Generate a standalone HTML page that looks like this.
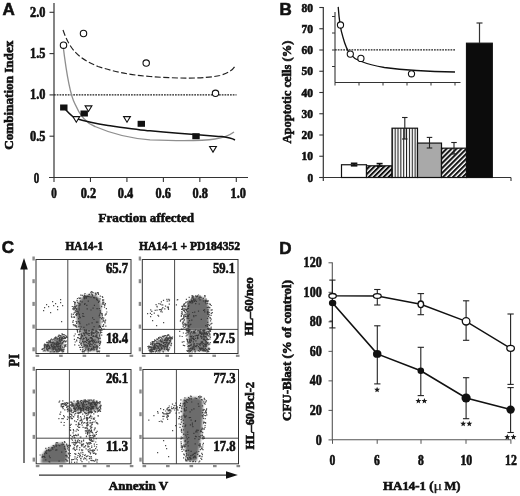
<!DOCTYPE html>
<html><head><meta charset="utf-8"><style>
html,body{margin:0;padding:0;background:#fff;width:520px;height:496px;overflow:hidden}
svg{display:block;filter:blur(0.35px)}
</style></head><body>
<svg width="520" height="496" viewBox="0 0 520 496">
<rect width="520" height="496" fill="#fff"/>
<text x="2.4" y="15.0" text-anchor="start" style="font-family:'Liberation Sans',sans-serif;font-weight:bold;font-size:17px" fill="#111" stroke="#111" stroke-width="0.6">A</text>
<line x1="54" y1="3" x2="54" y2="177.5" stroke="#333" stroke-width="1.2"/>
<line x1="49" y1="177.5" x2="248" y2="177.5" stroke="#333" stroke-width="1.2"/>
<line x1="49.5" y1="12.300000000000011" x2="54" y2="12.300000000000011" stroke="#333" stroke-width="1.1"/>
<text x="45.5" y="16.70000000000001" text-anchor="end" style="font-family:'Liberation Serif',serif;font-weight:bold;font-size:13.8px" fill="#111" stroke="#111" stroke-width="0.6" textLength="15.4" lengthAdjust="spacingAndGlyphs">2.0</text>
<line x1="49.5" y1="53.60000000000001" x2="54" y2="53.60000000000001" stroke="#333" stroke-width="1.1"/>
<text x="45.5" y="58.00000000000001" text-anchor="end" style="font-family:'Liberation Serif',serif;font-weight:bold;font-size:13.8px" fill="#111" stroke="#111" stroke-width="0.6" textLength="15.4" lengthAdjust="spacingAndGlyphs">1.5</text>
<line x1="49.5" y1="94.9" x2="54" y2="94.9" stroke="#333" stroke-width="1.1"/>
<text x="45.5" y="99.30000000000001" text-anchor="end" style="font-family:'Liberation Serif',serif;font-weight:bold;font-size:13.8px" fill="#111" stroke="#111" stroke-width="0.6" textLength="15.4" lengthAdjust="spacingAndGlyphs">1.0</text>
<line x1="49.5" y1="136.2" x2="54" y2="136.2" stroke="#333" stroke-width="1.1"/>
<text x="45.5" y="140.6" text-anchor="end" style="font-family:'Liberation Serif',serif;font-weight:bold;font-size:13.8px" fill="#111" stroke="#111" stroke-width="0.6" textLength="15.4" lengthAdjust="spacingAndGlyphs">0.5</text>
<text x="36.4" y="183" text-anchor="middle" style="font-family:'Liberation Serif',serif;font-weight:bold;font-size:13.8px" fill="#111" stroke="#111" stroke-width="0.6" textLength="5.5" lengthAdjust="spacingAndGlyphs">0</text>
<line x1="54.0" y1="177.5" x2="54.0" y2="182" stroke="#333" stroke-width="1.1"/>
<text x="53.9" y="197.6" text-anchor="middle" style="font-family:'Liberation Serif',serif;font-weight:bold;font-size:14px" fill="#111" stroke="#111" stroke-width="0.6" textLength="5.5" lengthAdjust="spacingAndGlyphs">0</text>
<line x1="90.46000000000001" y1="177.5" x2="90.46000000000001" y2="182" stroke="#333" stroke-width="1.1"/>
<text x="88.4" y="197.6" text-anchor="middle" style="font-family:'Liberation Serif',serif;font-weight:bold;font-size:14px" fill="#111" stroke="#111" stroke-width="0.6" textLength="15.4" lengthAdjust="spacingAndGlyphs">0.2</text>
<line x1="126.92" y1="177.5" x2="126.92" y2="182" stroke="#333" stroke-width="1.1"/>
<text x="125.5" y="197.6" text-anchor="middle" style="font-family:'Liberation Serif',serif;font-weight:bold;font-size:14px" fill="#111" stroke="#111" stroke-width="0.6" textLength="15.4" lengthAdjust="spacingAndGlyphs">0.4</text>
<line x1="163.38" y1="177.5" x2="163.38" y2="182" stroke="#333" stroke-width="1.1"/>
<text x="163.2" y="197.6" text-anchor="middle" style="font-family:'Liberation Serif',serif;font-weight:bold;font-size:14px" fill="#111" stroke="#111" stroke-width="0.6" textLength="15.4" lengthAdjust="spacingAndGlyphs">0.6</text>
<line x1="199.84" y1="177.5" x2="199.84" y2="182" stroke="#333" stroke-width="1.1"/>
<text x="200.2" y="197.6" text-anchor="middle" style="font-family:'Liberation Serif',serif;font-weight:bold;font-size:14px" fill="#111" stroke="#111" stroke-width="0.6" textLength="15.4" lengthAdjust="spacingAndGlyphs">0.8</text>
<line x1="236.3" y1="177.5" x2="236.3" y2="182" stroke="#333" stroke-width="1.1"/>
<text x="238.2" y="197.6" text-anchor="middle" style="font-family:'Liberation Serif',serif;font-weight:bold;font-size:14px" fill="#111" stroke="#111" stroke-width="0.6" textLength="15.4" lengthAdjust="spacingAndGlyphs">1.0</text>
<text x="146.3" y="221.8" text-anchor="middle" style="font-family:'Liberation Serif',serif;font-weight:bold;font-size:13.5px" fill="#111" stroke="#111" stroke-width="0.6" textLength="95.5" lengthAdjust="spacingAndGlyphs">Fraction affected</text>
<text x="13.1" y="95.2" text-anchor="middle" style="font-family:'Liberation Serif',serif;font-weight:bold;font-size:12.5px" fill="#111" stroke="#111" stroke-width="0.6" transform="rotate(-90 13.1 95.2)" textLength="109" lengthAdjust="spacingAndGlyphs">Combination Index</text>
<line x1="54" y1="94.8" x2="236.5" y2="94.8" stroke="#222" stroke-width="1.3" stroke-dasharray="1.75 1.0"/>
<path d="M63,30 C70,50 78,58 98,66.5 C115,72 130,75 150,76.5 C175,78.5 205,79 220,75.5 C228,73 233,70 235,66" fill="none" stroke="#222" stroke-width="1.15" stroke-dasharray="6 2.5"/>
<path d="M63,45 C66,70 70,95 75,104 C80,116 86,123 95,126.5 C110,133 125,138 150,139.8 C180,141 205,140.5 215,139 C225,137.5 230,135 234,132" fill="none" stroke="#8f8f8f" stroke-width="1.35"/>
<path d="M63.8,107.5 C68,112 71,116 76,118.5 C84,121 95,123.5 108,125.4 C125,127.8 140,130 150,130.8 C180,133.5 205,135.3 222,136.6 C228,137.5 232,138.5 235,140" fill="none" stroke="#111" stroke-width="1.5"/>
<circle cx="63.5" cy="45.2" r="3.2" fill="#fff" stroke="#111" stroke-width="1.1"/>
<circle cx="83.5" cy="33.5" r="3.2" fill="#fff" stroke="#111" stroke-width="1.1"/>
<circle cx="146.2" cy="63.1" r="3.2" fill="#fff" stroke="#111" stroke-width="1.1"/>
<circle cx="215.5" cy="93.3" r="3.2" fill="#fff" stroke="#111" stroke-width="1.1"/>
<rect x="60.099999999999994" y="104.5" width="7.4" height="6.0" fill="#111"/>
<rect x="80.5" y="110.5" width="7.4" height="6.0" fill="#111"/>
<rect x="137.60000000000002" y="120.8" width="7.4" height="6.0" fill="#111"/>
<rect x="192.3" y="133.2" width="7.4" height="6.0" fill="#111"/>
<path d="M72.89999999999999,116.60000000000001 L79.7,116.60000000000001 L76.3,122.2 Z" fill="#fff" stroke="#111" stroke-width="1.1"/>
<path d="M85.1,105.9 L91.9,105.9 L88.5,111.5 Z" fill="#fff" stroke="#111" stroke-width="1.1"/>
<path d="M123.6,116.60000000000001 L130.4,116.60000000000001 L127,122.2 Z" fill="#fff" stroke="#111" stroke-width="1.1"/>
<path d="M209.6,146.5 L216.4,146.5 L213,152.1 Z" fill="#fff" stroke="#111" stroke-width="1.1"/>
<text x="279.6" y="15.0" text-anchor="start" style="font-family:'Liberation Sans',sans-serif;font-weight:bold;font-size:17px" fill="#111" stroke="#111" stroke-width="0.6">B</text>
<line x1="323.3" y1="6.9" x2="323.3" y2="181" stroke="#333" stroke-width="1.2"/>
<line x1="319.5" y1="177.5" x2="511" y2="177.5" stroke="#333" stroke-width="1.2"/>
<line x1="511" y1="177.5" x2="511" y2="181" stroke="#333" stroke-width="1.1"/>
<line x1="319.3" y1="177.5" x2="323.3" y2="177.5" stroke="#333" stroke-width="1.1"/>
<text x="313" y="181.7" text-anchor="end" style="font-family:'Liberation Serif',serif;font-weight:bold;font-size:12.6px" fill="#111" stroke="#111" stroke-width="0.6" textLength="5.6" lengthAdjust="spacingAndGlyphs">0</text>
<line x1="319.3" y1="156.25" x2="323.3" y2="156.25" stroke="#333" stroke-width="1.1"/>
<text x="313" y="160.45" text-anchor="end" style="font-family:'Liberation Serif',serif;font-weight:bold;font-size:12.6px" fill="#111" stroke="#111" stroke-width="0.6" textLength="11.5" lengthAdjust="spacingAndGlyphs">10</text>
<line x1="319.3" y1="135.0" x2="323.3" y2="135.0" stroke="#333" stroke-width="1.1"/>
<text x="313" y="139.2" text-anchor="end" style="font-family:'Liberation Serif',serif;font-weight:bold;font-size:12.6px" fill="#111" stroke="#111" stroke-width="0.6" textLength="11.5" lengthAdjust="spacingAndGlyphs">20</text>
<line x1="319.3" y1="113.75" x2="323.3" y2="113.75" stroke="#333" stroke-width="1.1"/>
<text x="313" y="117.95" text-anchor="end" style="font-family:'Liberation Serif',serif;font-weight:bold;font-size:12.6px" fill="#111" stroke="#111" stroke-width="0.6" textLength="11.5" lengthAdjust="spacingAndGlyphs">30</text>
<line x1="319.3" y1="92.5" x2="323.3" y2="92.5" stroke="#333" stroke-width="1.1"/>
<text x="313" y="96.7" text-anchor="end" style="font-family:'Liberation Serif',serif;font-weight:bold;font-size:12.6px" fill="#111" stroke="#111" stroke-width="0.6" textLength="11.5" lengthAdjust="spacingAndGlyphs">40</text>
<line x1="319.3" y1="71.25" x2="323.3" y2="71.25" stroke="#333" stroke-width="1.1"/>
<text x="313" y="75.45" text-anchor="end" style="font-family:'Liberation Serif',serif;font-weight:bold;font-size:12.6px" fill="#111" stroke="#111" stroke-width="0.6" textLength="11.5" lengthAdjust="spacingAndGlyphs">50</text>
<line x1="319.3" y1="50.0" x2="323.3" y2="50.0" stroke="#333" stroke-width="1.1"/>
<text x="313" y="54.2" text-anchor="end" style="font-family:'Liberation Serif',serif;font-weight:bold;font-size:12.6px" fill="#111" stroke="#111" stroke-width="0.6" textLength="11.5" lengthAdjust="spacingAndGlyphs">60</text>
<line x1="319.3" y1="28.75" x2="323.3" y2="28.75" stroke="#333" stroke-width="1.1"/>
<text x="313" y="32.95" text-anchor="end" style="font-family:'Liberation Serif',serif;font-weight:bold;font-size:12.6px" fill="#111" stroke="#111" stroke-width="0.6" textLength="11.5" lengthAdjust="spacingAndGlyphs">70</text>
<line x1="319.3" y1="7.5" x2="323.3" y2="7.5" stroke="#333" stroke-width="1.1"/>
<text x="313" y="11.7" text-anchor="end" style="font-family:'Liberation Serif',serif;font-weight:bold;font-size:12.6px" fill="#111" stroke="#111" stroke-width="0.6" textLength="11.5" lengthAdjust="spacingAndGlyphs">80</text>
<text x="290.8" y="92.1" text-anchor="middle" style="font-family:'Liberation Serif',serif;font-weight:bold;font-size:12.3px" fill="#111" stroke="#111" stroke-width="0.6" transform="rotate(-90 290.8 92.1)" textLength="103" lengthAdjust="spacingAndGlyphs">Apoptotic cells (%)</text>
<line x1="335" y1="12" x2="335" y2="82.5" stroke="#333" stroke-width="1.1"/>
<line x1="335" y1="82.5" x2="460.5" y2="82.5" stroke="#333" stroke-width="1.1"/>
<line x1="332" y1="16.5" x2="335" y2="16.5" stroke="#333" stroke-width="1.0"/>
<line x1="332" y1="33" x2="335" y2="33" stroke="#333" stroke-width="1.0"/>
<line x1="332" y1="50" x2="335" y2="50" stroke="#333" stroke-width="1.0"/>
<line x1="332" y1="66.5" x2="335" y2="66.5" stroke="#333" stroke-width="1.0"/>
<line x1="335" y1="82.5" x2="335" y2="85.5" stroke="#333" stroke-width="1.0"/>
<line x1="359" y1="82.5" x2="359" y2="85.5" stroke="#333" stroke-width="1.0"/>
<line x1="383" y1="82.5" x2="383" y2="85.5" stroke="#333" stroke-width="1.0"/>
<line x1="407" y1="82.5" x2="407" y2="85.5" stroke="#333" stroke-width="1.0"/>
<line x1="431" y1="82.5" x2="431" y2="85.5" stroke="#333" stroke-width="1.0"/>
<line x1="455" y1="82.5" x2="455" y2="85.5" stroke="#333" stroke-width="1.0"/>
<line x1="335" y1="49.8" x2="455" y2="49.8" stroke="#222" stroke-width="1.3" stroke-dasharray="1.75 1.0"/>
<path d="M338.2,6.9 C339,18 340,28 342.7,36.3 C344.5,43 346,49 350.3,54.1 C353,57.5 356,59.5 360,61 C365,63 372,65.5 384.4,67.5 C400,69.6 430,71.6 455,72" fill="none" stroke="#111" stroke-width="1.3"/>
<circle cx="340.5" cy="25" r="3.1" fill="#fff" stroke="#111" stroke-width="1.1"/>
<circle cx="350.3" cy="54.1" r="3.1" fill="#fff" stroke="#111" stroke-width="1.1"/>
<circle cx="360.9" cy="58.4" r="3.1" fill="#fff" stroke="#111" stroke-width="1.1"/>
<circle cx="411.5" cy="73.8" r="3.1" fill="#fff" stroke="#111" stroke-width="1.1"/>
<defs><pattern id="dg" patternUnits="userSpaceOnUse" width="3.5" height="5" patternTransform="rotate(45)"><rect width="3.5" height="5" fill="#fff"/><rect width="2.05" height="5" fill="#111"/></pattern><pattern id="vt" patternUnits="userSpaceOnUse" width="2.85" height="5" x="391.8"><rect width="2.85" height="5" fill="#fff"/><rect x="0" width="1.05" height="5" fill="#1a1a1a"/></pattern></defs>
<rect x="341.5" y="164.75" width="25.0" height="12.75" fill="#fff" stroke="#111" stroke-width="1.2"/>
<rect x="366.5" y="165.8125" width="25.5" height="11.6875" fill="url(#dg)" stroke="#111" stroke-width="1.2"/>
<rect x="392" y="128.2" width="25.5" height="49.30000000000001" fill="url(#vt)" stroke="#111" stroke-width="1.2"/>
<rect x="417.5" y="143.075" width="24.0" height="34.42500000000001" fill="#a9a9a9" stroke="#111" stroke-width="1.2"/>
<rect x="441.5" y="148.175" width="25.0" height="29.32499999999999" fill="url(#dg)" stroke="#111" stroke-width="1.2"/>
<rect x="466.5" y="43.19999999999999" width="25.80000000000001" height="134.3" fill="#0c0c0c" stroke="#111" stroke-width="1.2"/>
<line x1="354.1" y1="163.3" x2="354.1" y2="165.8" stroke="#111" stroke-width="1.6"/>
<line x1="350.85" y1="163.3" x2="357.35" y2="163.3" stroke="#111" stroke-width="1.6"/>
<line x1="350.85" y1="165.8" x2="357.35" y2="165.8" stroke="#111" stroke-width="1.6"/>
<line x1="379.6" y1="163.6" x2="379.6" y2="166.2" stroke="#111" stroke-width="1.6"/>
<line x1="376.6" y1="163.6" x2="382.6" y2="163.6" stroke="#111" stroke-width="1.6"/>
<line x1="376.6" y1="166.2" x2="382.6" y2="166.2" stroke="#111" stroke-width="1.6"/>
<line x1="404.8" y1="117.5" x2="404.8" y2="139" stroke="#222" stroke-width="1.1"/>
<line x1="402.05" y1="117.5" x2="407.55" y2="117.5" stroke="#222" stroke-width="1.1"/>
<line x1="402.05" y1="139" x2="407.55" y2="139" stroke="#222" stroke-width="1.1"/>
<line x1="429.5" y1="137.4" x2="429.5" y2="148" stroke="#222" stroke-width="1.1"/>
<line x1="426.75" y1="137.4" x2="432.25" y2="137.4" stroke="#222" stroke-width="1.1"/>
<line x1="426.75" y1="148" x2="432.25" y2="148" stroke="#222" stroke-width="1.1"/>
<line x1="454" y1="142.5" x2="454" y2="154" stroke="#222" stroke-width="1.1"/>
<line x1="451.25" y1="142.5" x2="456.75" y2="142.5" stroke="#222" stroke-width="1.1"/>
<line x1="451.25" y1="154" x2="456.75" y2="154" stroke="#222" stroke-width="1.1"/>
<line x1="479.5" y1="23" x2="479.5" y2="43" stroke="#333" stroke-width="1.2"/>
<line x1="476.5" y1="23" x2="482.5" y2="23" stroke="#333" stroke-width="1.2"/>
<text x="1.8" y="253.2" text-anchor="start" style="font-family:'Liberation Sans',sans-serif;font-weight:bold;font-size:17px" fill="#111" stroke="#111" stroke-width="0.6">C</text>
<text x="84.3" y="249.8" text-anchor="middle" style="font-family:'Liberation Serif',serif;font-weight:bold;font-size:11.8px" fill="#111" stroke="#111" stroke-width="0.6" textLength="37.5" lengthAdjust="spacingAndGlyphs">HA14-1</text>
<text x="189.5" y="249.6" text-anchor="middle" style="font-family:'Liberation Serif',serif;font-weight:bold;font-size:11.8px" fill="#111" stroke="#111" stroke-width="0.6" textLength="101" lengthAdjust="spacingAndGlyphs">HA14-1 + PD184352</text>
<rect x="36" y="259.5" width="95" height="94.0" fill="#fff" stroke="#333" stroke-width="1"/>
<rect x="142.3" y="259.5" width="95.69999999999999" height="94.0" fill="#fff" stroke="#333" stroke-width="1"/>
<rect x="36.2" y="369.5" width="94.8" height="94.30000000000001" fill="#fff" stroke="#333" stroke-width="1"/>
<rect x="142.9" y="369.5" width="95.6" height="94.30000000000001" fill="#fff" stroke="#333" stroke-width="1"/>
<line x1="67.8" y1="259.5" x2="67.8" y2="353.5" stroke="#333" stroke-width="0.9"/>
<line x1="36" y1="329.4" x2="131" y2="329.4" stroke="#333" stroke-width="0.9"/>
<line x1="174.6" y1="259.5" x2="174.6" y2="353.5" stroke="#333" stroke-width="0.9"/>
<line x1="142.3" y1="329.4" x2="238" y2="329.4" stroke="#333" stroke-width="0.9"/>
<line x1="69.4" y1="369.5" x2="69.4" y2="463.8" stroke="#333" stroke-width="0.9"/>
<line x1="36.2" y1="438.2" x2="131" y2="438.2" stroke="#333" stroke-width="0.9"/>
<line x1="176.4" y1="369.5" x2="176.4" y2="463.8" stroke="#333" stroke-width="0.9"/>
<line x1="142.9" y1="438.2" x2="238.5" y2="438.2" stroke="#333" stroke-width="0.9"/>
<defs><filter id="bl" x="-20%" y="-20%" width="140%" height="140%"><feGaussianBlur stdDeviation="0.9"/></filter></defs>
<polygon points="80,300 84,296 90,294.5 96,295.5 99.5,299 101,306 101,318 100.5,329 96,332 83,332 78,327 76.5,316 77,306" fill="#6e6e6e" filter="url(#bl)"/>
<path d="M75.1 310.0h1.2v1.2h-1.2zM92.2 292.1h1.2v1.2h-1.2zM75.8 326.3h1.2v1.2h-1.2zM104.6 314.6h1.2v1.2h-1.2zM75.5 320.9h1.2v1.2h-1.2zM99.9 311.9h1.2v1.2h-1.2zM90.4 309.4h1.2v1.2h-1.2zM79.0 321.5h1.2v1.2h-1.2zM101.7 295.9h1.2v1.2h-1.2zM73.5 325.0h1.2v1.2h-1.2zM86.0 296.6h1.2v1.2h-1.2zM103.0 299.3h1.2v1.2h-1.2zM103.1 317.5h1.2v1.2h-1.2zM76.3 328.9h1.2v1.2h-1.2zM101.0 313.3h1.2v1.2h-1.2zM87.3 295.8h1.2v1.2h-1.2zM97.1 298.4h1.2v1.2h-1.2zM72.7 313.7h1.2v1.2h-1.2zM99.5 298.2h1.2v1.2h-1.2zM88.3 323.4h1.2v1.2h-1.2zM78.3 303.0h1.2v1.2h-1.2zM79.8 328.2h1.2v1.2h-1.2zM104.4 303.9h1.2v1.2h-1.2zM97.4 292.5h1.2v1.2h-1.2zM72.9 306.4h1.2v1.2h-1.2zM79.3 323.1h1.2v1.2h-1.2zM98.6 326.2h1.2v1.2h-1.2zM75.9 314.8h1.2v1.2h-1.2zM75.7 307.8h1.2v1.2h-1.2zM98.8 325.0h1.2v1.2h-1.2zM97.8 292.3h1.2v1.2h-1.2zM83.4 297.2h1.2v1.2h-1.2zM79.3 304.6h1.2v1.2h-1.2zM72.7 324.1h1.2v1.2h-1.2zM93.4 297.1h1.2v1.2h-1.2zM88.4 294.0h1.2v1.2h-1.2zM82.2 315.5h1.2v1.2h-1.2zM83.2 296.0h1.2v1.2h-1.2zM73.6 312.3h1.2v1.2h-1.2zM105.2 325.5h1.2v1.2h-1.2zM95.7 293.5h1.2v1.2h-1.2zM99.5 317.0h1.2v1.2h-1.2zM75.7 308.7h1.2v1.2h-1.2zM72.3 321.5h1.2v1.2h-1.2zM97.9 301.2h1.2v1.2h-1.2zM98.9 300.5h1.2v1.2h-1.2zM75.5 305.8h1.2v1.2h-1.2zM74.0 303.3h1.2v1.2h-1.2zM90.3 292.1h1.2v1.2h-1.2zM76.1 321.4h1.2v1.2h-1.2zM98.7 315.2h1.2v1.2h-1.2zM103.0 319.7h1.2v1.2h-1.2zM84.4 296.8h1.2v1.2h-1.2zM102.1 317.2h1.2v1.2h-1.2zM98.7 308.0h1.2v1.2h-1.2zM90.9 293.4h1.2v1.2h-1.2zM95.9 321.5h1.2v1.2h-1.2zM74.4 324.3h1.2v1.2h-1.2zM83.9 294.5h1.2v1.2h-1.2zM75.5 314.4h1.2v1.2h-1.2zM88.5 296.1h1.2v1.2h-1.2zM72.9 308.5h1.2v1.2h-1.2zM106.2 311.4h1.2v1.2h-1.2zM74.8 306.9h1.2v1.2h-1.2zM78.0 318.1h1.2v1.2h-1.2zM76.2 304.8h1.2v1.2h-1.2zM88.8 293.7h1.2v1.2h-1.2zM92.5 292.1h1.2v1.2h-1.2zM72.1 308.2h1.2v1.2h-1.2zM102.0 325.8h1.2v1.2h-1.2zM103.9 306.5h1.2v1.2h-1.2zM76.0 312.9h1.2v1.2h-1.2zM73.6 316.2h1.2v1.2h-1.2zM99.6 325.8h1.2v1.2h-1.2zM86.6 295.5h1.2v1.2h-1.2zM103.0 324.1h1.2v1.2h-1.2zM105.3 313.6h1.2v1.2h-1.2zM77.1 302.1h1.2v1.2h-1.2zM76.5 309.5h1.2v1.2h-1.2zM76.2 326.6h1.2v1.2h-1.2zM76.6 313.6h1.2v1.2h-1.2zM84.9 295.8h1.2v1.2h-1.2zM71.7 305.9h1.2v1.2h-1.2zM102.9 325.6h1.2v1.2h-1.2zM104.2 321.4h1.2v1.2h-1.2zM72.0 321.4h1.2v1.2h-1.2zM86.2 304.8h1.2v1.2h-1.2zM94.2 297.2h1.2v1.2h-1.2zM70.9 313.5h1.2v1.2h-1.2zM84.0 303.8h1.2v1.2h-1.2zM83.7 298.0h1.2v1.2h-1.2zM91.3 291.1h1.2v1.2h-1.2zM84.4 303.1h1.2v1.2h-1.2zM84.4 292.9h1.2v1.2h-1.2zM83.3 315.9h1.2v1.2h-1.2zM102.5 319.3h1.2v1.2h-1.2zM104.4 322.2h1.2v1.2h-1.2zM97.9 293.7h1.2v1.2h-1.2zM94.9 292.9h1.2v1.2h-1.2zM99.7 295.6h1.2v1.2h-1.2zM74.3 305.8h1.2v1.2h-1.2zM103.2 301.7h1.2v1.2h-1.2zM102.3 302.2h1.2v1.2h-1.2zM99.0 314.3h1.2v1.2h-1.2zM76.9 297.9h1.2v1.2h-1.2zM102.8 320.6h1.2v1.2h-1.2zM85.7 296.1h1.2v1.2h-1.2zM102.6 317.4h1.2v1.2h-1.2zM101.0 305.7h1.2v1.2h-1.2zM73.8 308.1h1.2v1.2h-1.2zM102.1 296.8h1.2v1.2h-1.2zM76.0 322.7h1.2v1.2h-1.2zM77.2 310.9h1.2v1.2h-1.2zM79.8 300.6h1.2v1.2h-1.2zM104.8 302.9h1.2v1.2h-1.2zM101.8 313.6h1.2v1.2h-1.2zM104.4 320.4h1.2v1.2h-1.2zM96.5 308.0h1.2v1.2h-1.2zM71.3 316.7h1.2v1.2h-1.2zM76.4 299.7h1.2v1.2h-1.2zM83.5 295.4h1.2v1.2h-1.2zM104.1 304.7h1.2v1.2h-1.2zM97.2 321.6h1.2v1.2h-1.2zM74.0 301.8h1.2v1.2h-1.2zM78.5 302.7h1.2v1.2h-1.2zM82.2 312.9h1.2v1.2h-1.2zM101.7 315.1h1.2v1.2h-1.2zM78.3 326.0h1.2v1.2h-1.2zM103.0 303.6h1.2v1.2h-1.2zM105.8 308.0h1.2v1.2h-1.2zM76.2 311.1h1.2v1.2h-1.2zM94.7 292.6h1.2v1.2h-1.2zM93.5 326.0h1.2v1.2h-1.2zM75.5 325.0h1.2v1.2h-1.2zM86.2 324.3h1.2v1.2h-1.2zM101.0 318.0h1.2v1.2h-1.2zM74.4 308.0h1.2v1.2h-1.2zM102.2 302.0h1.2v1.2h-1.2zM74.4 304.3h1.2v1.2h-1.2zM80.5 326.2h1.2v1.2h-1.2zM79.0 297.9h1.2v1.2h-1.2zM105.0 319.6h1.2v1.2h-1.2zM103.4 328.5h1.2v1.2h-1.2zM90.4 296.5h1.2v1.2h-1.2zM101.1 306.0h1.2v1.2h-1.2zM100.0 326.8h1.2v1.2h-1.2zM93.4 318.9h1.2v1.2h-1.2zM91.6 294.1h1.2v1.2h-1.2zM72.7 319.9h1.2v1.2h-1.2zM77.8 321.0h1.2v1.2h-1.2zM73.2 300.9h1.2v1.2h-1.2zM95.9 297.4h1.2v1.2h-1.2zM78.4 297.2h1.2v1.2h-1.2zM78.5 309.2h1.2v1.2h-1.2zM93.8 304.8h1.2v1.2h-1.2zM80.0 297.5h1.2v1.2h-1.2zM96.3 298.7h1.2v1.2h-1.2zM95.1 294.2h1.2v1.2h-1.2zM79.7 317.1h1.2v1.2h-1.2zM77.5 312.5h1.2v1.2h-1.2zM105.7 313.3h1.2v1.2h-1.2zM75.3 313.9h1.2v1.2h-1.2zM101.2 318.2h1.2v1.2h-1.2zM85.5 297.7h1.2v1.2h-1.2zM98.5 326.5h1.2v1.2h-1.2zM75.1 311.4h1.2v1.2h-1.2zM74.5 311.5h1.2v1.2h-1.2zM74.6 301.7h1.2v1.2h-1.2zM101.0 327.9h1.2v1.2h-1.2zM102.0 299.3h1.2v1.2h-1.2zM96.0 299.1h1.2v1.2h-1.2zM101.7 303.5h1.2v1.2h-1.2zM76.2 308.0h1.2v1.2h-1.2zM101.2 313.0h1.2v1.2h-1.2zM99.6 310.1h1.2v1.2h-1.2zM92.5 307.5h1.2v1.2h-1.2zM78.5 307.6h1.2v1.2h-1.2zM102.3 300.3h1.2v1.2h-1.2zM99.8 311.5h1.2v1.2h-1.2zM78.4 305.3h1.2v1.2h-1.2zM73.2 316.6h1.2v1.2h-1.2zM96.7 292.1h1.2v1.2h-1.2zM77.7 311.4h1.2v1.2h-1.2zM99.5 312.7h1.2v1.2h-1.2zM74.9 325.5h1.2v1.2h-1.2zM82.5 313.1h1.2v1.2h-1.2zM84.6 295.5h1.2v1.2h-1.2zM76.6 300.3h1.2v1.2h-1.2zM73.9 305.8h1.2v1.2h-1.2zM73.4 306.9h1.2v1.2h-1.2zM74.3 305.8h1.2v1.2h-1.2zM98.0 301.7h1.2v1.2h-1.2zM97.2 299.9h1.2v1.2h-1.2zM73.2 308.1h1.2v1.2h-1.2zM91.5 322.3h1.2v1.2h-1.2zM72.5 321.4h1.2v1.2h-1.2zM92.2 328.7h1.2v1.2h-1.2zM78.9 316.2h1.2v1.2h-1.2zM73.5 309.2h1.2v1.2h-1.2zM75.0 302.3h1.2v1.2h-1.2zM72.7 313.7h1.2v1.2h-1.2zM86.6 308.2h1.2v1.2h-1.2zM78.8 314.2h1.2v1.2h-1.2zM78.5 313.6h1.2v1.2h-1.2zM92.0 317.2h1.2v1.2h-1.2zM80.2 294.5h1.2v1.2h-1.2zM79.6 303.4h1.2v1.2h-1.2zM81.7 294.7h1.2v1.2h-1.2zM92.0 295.2h1.2v1.2h-1.2zM92.9 297.1h1.2v1.2h-1.2zM83.3 326.8h1.2v1.2h-1.2zM73.8 316.8h1.2v1.2h-1.2zM84.7 295.7h1.2v1.2h-1.2zM90.7 291.2h1.2v1.2h-1.2zM101.6 321.4h1.2v1.2h-1.2zM70.9 315.6h1.2v1.2h-1.2zM85.1 295.4h1.2v1.2h-1.2zM81.5 301.2h1.2v1.2h-1.2zM87.7 300.6h1.2v1.2h-1.2zM101.7 316.7h1.2v1.2h-1.2z" fill="#2e2e2e" fill-opacity="0.85"/>
<polygon points="80,331 100,331 99,343 96,351 85,351 81,342" fill="#8c8c8c" filter="url(#bl)"/>
<path d="M99.6 338.0h1.2v1.2h-1.2zM100.0 341.8h1.2v1.2h-1.2zM88.2 340.7h1.2v1.2h-1.2zM86.7 344.9h1.2v1.2h-1.2zM89.8 349.2h1.2v1.2h-1.2zM88.2 330.2h1.2v1.2h-1.2zM80.1 338.5h1.2v1.2h-1.2zM88.3 347.7h1.2v1.2h-1.2zM91.4 332.9h1.2v1.2h-1.2zM83.9 341.3h1.2v1.2h-1.2zM96.6 345.3h1.2v1.2h-1.2zM92.6 334.9h1.2v1.2h-1.2zM90.8 334.6h1.2v1.2h-1.2zM95.4 334.8h1.2v1.2h-1.2zM84.8 340.9h1.2v1.2h-1.2zM85.7 330.1h1.2v1.2h-1.2zM77.8 337.2h1.2v1.2h-1.2zM91.3 333.0h1.2v1.2h-1.2zM80.7 334.3h1.2v1.2h-1.2zM95.3 346.6h1.2v1.2h-1.2zM88.7 330.3h1.2v1.2h-1.2zM83.8 329.2h1.2v1.2h-1.2zM88.8 332.9h1.2v1.2h-1.2zM85.9 338.2h1.2v1.2h-1.2zM84.1 350.0h1.2v1.2h-1.2zM86.1 331.6h1.2v1.2h-1.2zM90.9 349.4h1.2v1.2h-1.2zM82.0 340.7h1.2v1.2h-1.2zM85.8 344.5h1.2v1.2h-1.2zM84.1 334.9h1.2v1.2h-1.2zM94.3 344.1h1.2v1.2h-1.2zM100.3 330.3h1.2v1.2h-1.2zM87.5 343.3h1.2v1.2h-1.2zM93.8 346.5h1.2v1.2h-1.2zM99.7 337.6h1.2v1.2h-1.2zM100.0 340.7h1.2v1.2h-1.2zM96.2 335.2h1.2v1.2h-1.2zM88.4 341.8h1.2v1.2h-1.2zM89.4 350.2h1.2v1.2h-1.2zM87.9 349.1h1.2v1.2h-1.2zM78.9 333.8h1.2v1.2h-1.2zM80.6 333.2h1.2v1.2h-1.2zM91.2 331.3h1.2v1.2h-1.2zM93.5 349.0h1.2v1.2h-1.2zM100.0 330.3h1.2v1.2h-1.2zM82.4 339.1h1.2v1.2h-1.2zM87.8 338.8h1.2v1.2h-1.2zM80.0 330.6h1.2v1.2h-1.2zM99.0 342.8h1.2v1.2h-1.2zM85.0 349.2h1.2v1.2h-1.2zM79.0 338.1h1.2v1.2h-1.2zM99.0 335.5h1.2v1.2h-1.2zM97.3 350.9h1.2v1.2h-1.2zM82.0 351.2h1.2v1.2h-1.2zM84.7 345.3h1.2v1.2h-1.2zM90.0 337.0h1.2v1.2h-1.2zM91.6 329.0h1.2v1.2h-1.2zM89.0 340.5h1.2v1.2h-1.2zM92.5 346.6h1.2v1.2h-1.2zM98.9 347.4h1.2v1.2h-1.2zM98.7 337.6h1.2v1.2h-1.2zM88.5 334.9h1.2v1.2h-1.2zM97.7 332.1h1.2v1.2h-1.2zM96.1 331.0h1.2v1.2h-1.2zM94.1 341.3h1.2v1.2h-1.2zM92.7 332.2h1.2v1.2h-1.2zM96.6 347.1h1.2v1.2h-1.2zM97.9 338.3h1.2v1.2h-1.2zM82.7 341.6h1.2v1.2h-1.2zM94.2 346.5h1.2v1.2h-1.2zM87.7 343.0h1.2v1.2h-1.2zM92.8 342.6h1.2v1.2h-1.2zM94.7 336.1h1.2v1.2h-1.2zM82.1 335.6h1.2v1.2h-1.2zM96.6 351.3h1.2v1.2h-1.2zM84.3 344.0h1.2v1.2h-1.2zM91.1 349.2h1.2v1.2h-1.2zM98.6 351.2h1.2v1.2h-1.2zM86.8 340.1h1.2v1.2h-1.2zM97.8 350.5h1.2v1.2h-1.2zM82.1 349.4h1.2v1.2h-1.2zM79.1 330.2h1.2v1.2h-1.2zM76.9 330.7h1.2v1.2h-1.2zM78.5 334.4h1.2v1.2h-1.2zM83.5 351.3h1.2v1.2h-1.2zM96.9 331.4h1.2v1.2h-1.2zM81.0 344.9h1.2v1.2h-1.2zM91.6 339.3h1.2v1.2h-1.2zM87.1 346.2h1.2v1.2h-1.2zM88.8 345.6h1.2v1.2h-1.2zM80.8 342.6h1.2v1.2h-1.2zM91.1 349.0h1.2v1.2h-1.2zM99.1 347.6h1.2v1.2h-1.2zM84.6 330.4h1.2v1.2h-1.2zM99.0 350.4h1.2v1.2h-1.2zM76.6 329.1h1.2v1.2h-1.2zM80.6 337.3h1.2v1.2h-1.2zM94.4 339.5h1.2v1.2h-1.2zM93.2 347.7h1.2v1.2h-1.2zM80.6 336.1h1.2v1.2h-1.2zM88.8 341.7h1.2v1.2h-1.2zM90.2 345.7h1.2v1.2h-1.2zM98.6 343.4h1.2v1.2h-1.2zM92.4 342.3h1.2v1.2h-1.2zM82.2 346.6h1.2v1.2h-1.2zM81.2 334.9h1.2v1.2h-1.2zM84.8 341.1h1.2v1.2h-1.2zM97.3 337.2h1.2v1.2h-1.2zM91.7 339.0h1.2v1.2h-1.2zM87.6 351.2h1.2v1.2h-1.2zM92.8 329.4h1.2v1.2h-1.2zM98.5 340.5h1.2v1.2h-1.2zM101.1 331.9h1.2v1.2h-1.2zM92.2 340.4h1.2v1.2h-1.2zM89.6 337.6h1.2v1.2h-1.2zM86.1 340.0h1.2v1.2h-1.2zM80.7 334.4h1.2v1.2h-1.2zM93.2 346.7h1.2v1.2h-1.2zM99.6 332.6h1.2v1.2h-1.2zM84.0 333.3h1.2v1.2h-1.2zM92.3 335.9h1.2v1.2h-1.2zM84.3 330.6h1.2v1.2h-1.2zM96.1 350.4h1.2v1.2h-1.2zM79.5 340.3h1.2v1.2h-1.2zM96.4 349.0h1.2v1.2h-1.2zM85.1 330.4h1.2v1.2h-1.2zM95.9 345.3h1.2v1.2h-1.2zM94.6 342.1h1.2v1.2h-1.2zM91.3 330.8h1.2v1.2h-1.2zM80.3 346.7h1.2v1.2h-1.2zM91.1 338.1h1.2v1.2h-1.2zM91.4 331.8h1.2v1.2h-1.2zM85.1 336.7h1.2v1.2h-1.2zM93.7 341.1h1.2v1.2h-1.2zM86.0 337.4h1.2v1.2h-1.2zM96.5 348.1h1.2v1.2h-1.2zM88.7 341.8h1.2v1.2h-1.2zM91.7 340.7h1.2v1.2h-1.2zM77.0 331.5h1.2v1.2h-1.2zM96.7 346.3h1.2v1.2h-1.2zM84.1 333.5h1.2v1.2h-1.2zM90.8 348.5h1.2v1.2h-1.2zM81.9 334.9h1.2v1.2h-1.2zM87.5 332.8h1.2v1.2h-1.2zM95.4 331.2h1.2v1.2h-1.2zM88.9 344.4h1.2v1.2h-1.2zM97.6 341.7h1.2v1.2h-1.2zM100.4 329.7h1.2v1.2h-1.2zM99.8 343.3h1.2v1.2h-1.2zM91.5 337.9h1.2v1.2h-1.2zM80.2 342.8h1.2v1.2h-1.2zM99.0 329.6h1.2v1.2h-1.2zM90.4 343.7h1.2v1.2h-1.2zM99.9 329.3h1.2v1.2h-1.2zM85.6 331.9h1.2v1.2h-1.2zM84.1 349.9h1.2v1.2h-1.2zM80.7 337.3h1.2v1.2h-1.2zM97.4 346.2h1.2v1.2h-1.2zM99.8 331.8h1.2v1.2h-1.2zM77.9 334.1h1.2v1.2h-1.2zM88.9 344.6h1.2v1.2h-1.2zM81.8 351.1h1.2v1.2h-1.2zM90.5 332.2h1.2v1.2h-1.2zM97.7 340.4h1.2v1.2h-1.2zM96.0 341.5h1.2v1.2h-1.2zM99.0 335.5h1.2v1.2h-1.2zM101.2 329.4h1.2v1.2h-1.2zM85.8 332.6h1.2v1.2h-1.2zM101.7 329.4h1.2v1.2h-1.2zM83.5 337.9h1.2v1.2h-1.2zM96.0 341.4h1.2v1.2h-1.2zM86.6 333.5h1.2v1.2h-1.2zM80.3 338.3h1.2v1.2h-1.2zM91.9 348.6h1.2v1.2h-1.2zM82.3 348.8h1.2v1.2h-1.2zM93.2 332.7h1.2v1.2h-1.2zM76.8 329.6h1.2v1.2h-1.2zM101.1 334.6h1.2v1.2h-1.2zM83.2 350.7h1.2v1.2h-1.2zM93.3 349.4h1.2v1.2h-1.2zM92.9 345.8h1.2v1.2h-1.2zM88.0 338.8h1.2v1.2h-1.2zM96.3 333.2h1.2v1.2h-1.2zM86.0 341.9h1.2v1.2h-1.2zM86.3 346.1h1.2v1.2h-1.2zM96.2 333.2h1.2v1.2h-1.2zM96.1 336.3h1.2v1.2h-1.2zM90.8 340.1h1.2v1.2h-1.2zM98.0 338.6h1.2v1.2h-1.2zM97.5 350.6h1.2v1.2h-1.2zM91.0 347.8h1.2v1.2h-1.2zM99.1 334.3h1.2v1.2h-1.2zM87.7 349.7h1.2v1.2h-1.2zM95.8 348.5h1.2v1.2h-1.2zM91.7 337.7h1.2v1.2h-1.2zM96.5 336.9h1.2v1.2h-1.2zM91.1 333.8h1.2v1.2h-1.2zM86.4 339.3h1.2v1.2h-1.2zM79.0 331.3h1.2v1.2h-1.2zM80.2 337.4h1.2v1.2h-1.2zM93.5 332.3h1.2v1.2h-1.2zM83.3 351.0h1.2v1.2h-1.2zM89.5 342.5h1.2v1.2h-1.2zM90.0 340.7h1.2v1.2h-1.2zM83.0 343.4h1.2v1.2h-1.2zM87.4 348.5h1.2v1.2h-1.2zM83.5 333.4h1.2v1.2h-1.2zM98.4 341.3h1.2v1.2h-1.2zM82.0 346.9h1.2v1.2h-1.2zM83.5 345.5h1.2v1.2h-1.2zM93.1 335.7h1.2v1.2h-1.2zM92.7 340.2h1.2v1.2h-1.2zM82.8 337.8h1.2v1.2h-1.2zM98.9 344.9h1.2v1.2h-1.2zM80.4 343.8h1.2v1.2h-1.2zM91.7 344.2h1.2v1.2h-1.2zM90.8 337.1h1.2v1.2h-1.2zM93.0 339.6h1.2v1.2h-1.2zM95.5 329.8h1.2v1.2h-1.2zM82.9 332.6h1.2v1.2h-1.2zM89.3 343.3h1.2v1.2h-1.2zM81.7 350.8h1.2v1.2h-1.2zM85.6 329.3h1.2v1.2h-1.2zM94.9 331.6h1.2v1.2h-1.2zM88.2 334.5h1.2v1.2h-1.2zM84.6 332.0h1.2v1.2h-1.2zM85.3 347.3h1.2v1.2h-1.2z" fill="#2e2e2e" fill-opacity="0.85"/>
<path d="M73.8 338.8h1.2v1.2h-1.2zM78.3 344.7h1.2v1.2h-1.2zM74.1 344.3h1.2v1.2h-1.2zM77.0 337.0h1.2v1.2h-1.2zM79.9 349.1h1.2v1.2h-1.2zM74.7 333.4h1.2v1.2h-1.2zM74.7 341.4h1.2v1.2h-1.2zM79.2 346.8h1.2v1.2h-1.2zM79.1 341.7h1.2v1.2h-1.2zM76.0 339.4h1.2v1.2h-1.2zM73.6 335.2h1.2v1.2h-1.2zM76.1 340.2h1.2v1.2h-1.2z" fill="#2e2e2e" fill-opacity="0.85"/>
<polygon points="44,351 45,346 52,341 60,337 64,338 63,346 60,351" fill="#8a8a8a" filter="url(#bl)"/>
<path d="M57.9 343.2h1.2v1.2h-1.2zM62.4 348.7h1.2v1.2h-1.2zM63.4 348.8h1.2v1.2h-1.2zM59.1 343.0h1.2v1.2h-1.2zM51.5 349.4h1.2v1.2h-1.2zM49.5 351.2h1.2v1.2h-1.2zM61.1 348.8h1.2v1.2h-1.2zM47.8 348.0h1.2v1.2h-1.2zM57.3 345.2h1.2v1.2h-1.2zM52.8 351.2h1.2v1.2h-1.2zM46.3 346.9h1.2v1.2h-1.2zM62.2 348.5h1.2v1.2h-1.2zM59.0 337.0h1.2v1.2h-1.2zM55.6 351.2h1.2v1.2h-1.2zM55.8 343.0h1.2v1.2h-1.2zM56.6 351.3h1.2v1.2h-1.2zM56.0 344.2h1.2v1.2h-1.2zM54.6 344.1h1.2v1.2h-1.2zM50.5 342.0h1.2v1.2h-1.2zM53.6 342.6h1.2v1.2h-1.2zM47.1 344.0h1.2v1.2h-1.2zM49.0 347.7h1.2v1.2h-1.2zM45.3 344.4h1.2v1.2h-1.2zM47.0 345.7h1.2v1.2h-1.2zM63.3 340.7h1.2v1.2h-1.2zM56.3 339.3h1.2v1.2h-1.2zM47.0 349.0h1.2v1.2h-1.2zM59.2 338.2h1.2v1.2h-1.2zM61.2 350.0h1.2v1.2h-1.2zM59.9 346.2h1.2v1.2h-1.2zM44.4 350.2h1.2v1.2h-1.2zM56.5 349.9h1.2v1.2h-1.2zM60.4 349.8h1.2v1.2h-1.2zM62.0 346.6h1.2v1.2h-1.2zM56.6 337.6h1.2v1.2h-1.2zM47.5 350.3h1.2v1.2h-1.2zM61.7 337.0h1.2v1.2h-1.2zM43.7 349.5h1.2v1.2h-1.2zM59.4 340.5h1.2v1.2h-1.2zM64.8 344.9h1.2v1.2h-1.2zM63.9 334.3h1.2v1.2h-1.2zM48.2 345.0h1.2v1.2h-1.2zM58.8 350.5h1.2v1.2h-1.2zM61.5 339.6h1.2v1.2h-1.2zM59.8 335.1h1.2v1.2h-1.2zM57.6 350.6h1.2v1.2h-1.2zM45.3 344.0h1.2v1.2h-1.2zM45.8 346.1h1.2v1.2h-1.2zM65.1 340.7h1.2v1.2h-1.2zM64.0 337.7h1.2v1.2h-1.2zM59.9 340.6h1.2v1.2h-1.2zM51.1 346.1h1.2v1.2h-1.2zM57.4 341.2h1.2v1.2h-1.2zM57.1 338.2h1.2v1.2h-1.2zM52.2 345.5h1.2v1.2h-1.2zM50.9 338.5h1.2v1.2h-1.2zM54.0 345.8h1.2v1.2h-1.2zM60.2 347.4h1.2v1.2h-1.2zM47.4 345.4h1.2v1.2h-1.2zM44.1 343.6h1.2v1.2h-1.2zM41.4 348.8h1.2v1.2h-1.2zM53.2 342.4h1.2v1.2h-1.2zM63.5 336.1h1.2v1.2h-1.2zM63.9 336.7h1.2v1.2h-1.2zM51.2 351.2h1.2v1.2h-1.2zM54.4 337.1h1.2v1.2h-1.2zM52.8 348.4h1.2v1.2h-1.2zM63.6 334.3h1.2v1.2h-1.2zM54.4 339.5h1.2v1.2h-1.2zM48.7 346.8h1.2v1.2h-1.2zM50.0 340.4h1.2v1.2h-1.2zM58.8 339.7h1.2v1.2h-1.2zM49.8 340.7h1.2v1.2h-1.2zM65.3 343.9h1.2v1.2h-1.2zM65.8 336.1h1.2v1.2h-1.2zM54.5 346.4h1.2v1.2h-1.2zM62.5 334.1h1.2v1.2h-1.2zM51.6 349.4h1.2v1.2h-1.2zM51.9 342.0h1.2v1.2h-1.2zM53.3 351.3h1.2v1.2h-1.2zM54.5 342.5h1.2v1.2h-1.2zM53.0 344.6h1.2v1.2h-1.2zM46.7 343.5h1.2v1.2h-1.2zM54.6 338.1h1.2v1.2h-1.2zM52.6 346.3h1.2v1.2h-1.2zM45.6 345.1h1.2v1.2h-1.2zM50.8 344.8h1.2v1.2h-1.2zM43.9 346.4h1.2v1.2h-1.2zM60.4 336.4h1.2v1.2h-1.2zM50.9 344.1h1.2v1.2h-1.2zM58.1 344.4h1.2v1.2h-1.2zM60.5 349.0h1.2v1.2h-1.2zM62.0 334.2h1.2v1.2h-1.2zM54.8 346.3h1.2v1.2h-1.2zM62.0 342.6h1.2v1.2h-1.2zM57.5 351.3h1.2v1.2h-1.2zM61.0 337.7h1.2v1.2h-1.2zM65.3 345.6h1.2v1.2h-1.2zM52.5 342.2h1.2v1.2h-1.2zM63.0 341.1h1.2v1.2h-1.2zM59.5 338.7h1.2v1.2h-1.2zM53.2 338.5h1.2v1.2h-1.2zM51.2 346.0h1.2v1.2h-1.2zM47.0 341.8h1.2v1.2h-1.2zM51.6 347.5h1.2v1.2h-1.2zM58.1 348.3h1.2v1.2h-1.2zM47.7 344.3h1.2v1.2h-1.2zM61.4 338.0h1.2v1.2h-1.2zM60.1 347.4h1.2v1.2h-1.2zM62.0 337.8h1.2v1.2h-1.2zM61.8 336.9h1.2v1.2h-1.2zM61.4 333.3h1.2v1.2h-1.2zM59.7 344.7h1.2v1.2h-1.2zM59.4 348.2h1.2v1.2h-1.2zM66.5 336.8h1.2v1.2h-1.2zM52.1 339.3h1.2v1.2h-1.2zM58.2 335.8h1.2v1.2h-1.2zM55.5 336.8h1.2v1.2h-1.2zM46.4 347.1h1.2v1.2h-1.2zM55.3 347.6h1.2v1.2h-1.2zM58.2 349.0h1.2v1.2h-1.2zM62.4 336.0h1.2v1.2h-1.2zM54.3 337.8h1.2v1.2h-1.2zM63.1 341.3h1.2v1.2h-1.2zM55.7 337.4h1.2v1.2h-1.2zM59.2 340.4h1.2v1.2h-1.2zM61.7 333.6h1.2v1.2h-1.2zM62.4 350.1h1.2v1.2h-1.2zM63.9 340.3h1.2v1.2h-1.2zM51.3 343.7h1.2v1.2h-1.2zM55.3 348.3h1.2v1.2h-1.2zM58.4 346.1h1.2v1.2h-1.2zM52.2 342.3h1.2v1.2h-1.2zM63.2 349.3h1.2v1.2h-1.2zM56.9 343.8h1.2v1.2h-1.2zM48.9 341.6h1.2v1.2h-1.2zM46.1 341.7h1.2v1.2h-1.2zM48.4 341.5h1.2v1.2h-1.2zM57.7 347.5h1.2v1.2h-1.2zM43.6 344.6h1.2v1.2h-1.2zM42.4 347.9h1.2v1.2h-1.2zM46.0 348.2h1.2v1.2h-1.2zM65.2 335.0h1.2v1.2h-1.2zM42.0 348.8h1.2v1.2h-1.2zM61.7 341.9h1.2v1.2h-1.2zM52.6 351.3h1.2v1.2h-1.2zM46.6 345.2h1.2v1.2h-1.2zM59.4 349.4h1.2v1.2h-1.2zM58.5 339.5h1.2v1.2h-1.2zM52.5 341.5h1.2v1.2h-1.2zM56.3 342.6h1.2v1.2h-1.2zM43.7 347.5h1.2v1.2h-1.2zM50.5 344.5h1.2v1.2h-1.2zM49.1 340.9h1.2v1.2h-1.2zM57.6 335.8h1.2v1.2h-1.2zM62.6 348.8h1.2v1.2h-1.2zM49.9 342.1h1.2v1.2h-1.2zM65.0 341.4h1.2v1.2h-1.2zM53.7 342.5h1.2v1.2h-1.2zM54.5 337.4h1.2v1.2h-1.2zM50.1 340.6h1.2v1.2h-1.2zM54.9 349.5h1.2v1.2h-1.2zM53.6 343.2h1.2v1.2h-1.2zM59.4 348.0h1.2v1.2h-1.2zM56.6 346.3h1.2v1.2h-1.2zM44.2 346.8h1.2v1.2h-1.2zM46.7 349.6h1.2v1.2h-1.2zM63.7 344.6h1.2v1.2h-1.2zM65.9 340.4h1.2v1.2h-1.2zM62.8 337.7h1.2v1.2h-1.2zM57.1 346.1h1.2v1.2h-1.2zM57.0 341.6h1.2v1.2h-1.2zM60.2 336.5h1.2v1.2h-1.2zM58.5 337.7h1.2v1.2h-1.2zM60.6 335.3h1.2v1.2h-1.2zM61.2 339.1h1.2v1.2h-1.2zM45.4 345.3h1.2v1.2h-1.2zM64.8 337.3h1.2v1.2h-1.2zM58.9 349.6h1.2v1.2h-1.2zM63.0 351.0h1.2v1.2h-1.2zM43.8 345.4h1.2v1.2h-1.2zM54.0 351.1h1.2v1.2h-1.2zM64.1 346.1h1.2v1.2h-1.2zM52.7 349.3h1.2v1.2h-1.2zM57.6 342.3h1.2v1.2h-1.2zM65.2 337.1h1.2v1.2h-1.2zM63.0 335.9h1.2v1.2h-1.2zM54.0 348.4h1.2v1.2h-1.2zM58.3 334.7h1.2v1.2h-1.2zM54.1 351.3h1.2v1.2h-1.2zM50.1 339.2h1.2v1.2h-1.2zM55.0 336.6h1.2v1.2h-1.2zM60.5 350.3h1.2v1.2h-1.2zM49.6 347.3h1.2v1.2h-1.2zM59.9 347.6h1.2v1.2h-1.2zM58.3 342.9h1.2v1.2h-1.2zM48.4 340.5h1.2v1.2h-1.2zM44.0 344.7h1.2v1.2h-1.2zM61.1 338.6h1.2v1.2h-1.2zM42.7 350.4h1.2v1.2h-1.2zM52.8 351.3h1.2v1.2h-1.2zM64.6 345.0h1.2v1.2h-1.2zM59.1 346.4h1.2v1.2h-1.2zM55.2 349.6h1.2v1.2h-1.2zM63.5 347.0h1.2v1.2h-1.2zM59.4 341.3h1.2v1.2h-1.2zM49.8 351.3h1.2v1.2h-1.2zM56.1 350.8h1.2v1.2h-1.2zM60.2 345.3h1.2v1.2h-1.2zM51.8 342.4h1.2v1.2h-1.2zM65.2 345.6h1.2v1.2h-1.2zM55.3 337.6h1.2v1.2h-1.2zM48.9 346.1h1.2v1.2h-1.2zM56.6 349.0h1.2v1.2h-1.2zM53.4 347.4h1.2v1.2h-1.2zM58.9 349.8h1.2v1.2h-1.2zM48.1 342.5h1.2v1.2h-1.2zM48.4 340.1h1.2v1.2h-1.2zM59.6 342.6h1.2v1.2h-1.2zM61.1 343.3h1.2v1.2h-1.2zM58.6 334.6h1.2v1.2h-1.2zM55.9 345.6h1.2v1.2h-1.2zM57.5 347.7h1.2v1.2h-1.2zM52.0 347.6h1.2v1.2h-1.2zM60.6 339.8h1.2v1.2h-1.2zM60.4 347.5h1.2v1.2h-1.2zM61.7 351.2h1.2v1.2h-1.2zM53.0 346.6h1.2v1.2h-1.2zM64.8 337.8h1.2v1.2h-1.2zM58.3 334.8h1.2v1.2h-1.2zM53.6 346.9h1.2v1.2h-1.2zM66.0 336.1h1.2v1.2h-1.2zM56.2 341.3h1.2v1.2h-1.2z" fill="#2e2e2e" fill-opacity="0.85"/>
<path d="M44.0 307.0h1.2v1.2h-1.2zM46.0 304.0h1.2v1.2h-1.2zM48.0 306.0h1.2v1.2h-1.2zM52.0 301.0h1.2v1.2h-1.2zM53.0 305.0h1.2v1.2h-1.2zM55.0 303.0h1.2v1.2h-1.2zM57.0 306.0h1.2v1.2h-1.2zM60.0 302.0h1.2v1.2h-1.2zM60.0 299.0h1.2v1.2h-1.2zM62.0 305.0h1.2v1.2h-1.2zM57.0 309.0h1.2v1.2h-1.2zM61.0 321.0h1.2v1.2h-1.2zM43.0 310.0h1.2v1.2h-1.2zM50.0 312.0h1.2v1.2h-1.2z" fill="#2e2e2e" fill-opacity="0.85"/>
<polygon points="189,301 193,297.5 198,296.5 203,297.5 207,301 209,310 208.5,330 187,330 186,314 187,305" fill="#6e6e6e" filter="url(#bl)"/>
<path d="M210.5 314.8h1.2v1.2h-1.2zM183.2 315.5h1.2v1.2h-1.2zM191.2 300.2h1.2v1.2h-1.2zM207.5 327.5h1.2v1.2h-1.2zM207.2 313.8h1.2v1.2h-1.2zM208.6 311.9h1.2v1.2h-1.2zM192.1 311.9h1.2v1.2h-1.2zM182.7 321.5h1.2v1.2h-1.2zM185.2 301.7h1.2v1.2h-1.2zM207.9 306.5h1.2v1.2h-1.2zM183.4 303.5h1.2v1.2h-1.2zM188.4 302.3h1.2v1.2h-1.2zM187.9 315.1h1.2v1.2h-1.2zM183.5 314.6h1.2v1.2h-1.2zM188.2 304.7h1.2v1.2h-1.2zM180.7 315.9h1.2v1.2h-1.2zM202.7 297.8h1.2v1.2h-1.2zM183.1 316.3h1.2v1.2h-1.2zM207.6 313.3h1.2v1.2h-1.2zM181.5 312.1h1.2v1.2h-1.2zM195.7 300.7h1.2v1.2h-1.2zM191.9 297.0h1.2v1.2h-1.2zM192.4 297.2h1.2v1.2h-1.2zM207.7 300.3h1.2v1.2h-1.2zM190.7 299.2h1.2v1.2h-1.2zM187.1 314.9h1.2v1.2h-1.2zM181.3 318.7h1.2v1.2h-1.2zM185.1 305.3h1.2v1.2h-1.2zM197.9 310.6h1.2v1.2h-1.2zM187.1 301.2h1.2v1.2h-1.2zM210.9 328.7h1.2v1.2h-1.2zM186.4 301.4h1.2v1.2h-1.2zM206.8 312.3h1.2v1.2h-1.2zM181.7 318.5h1.2v1.2h-1.2zM185.0 325.6h1.2v1.2h-1.2zM199.2 296.7h1.2v1.2h-1.2zM192.1 300.2h1.2v1.2h-1.2zM188.6 296.7h1.2v1.2h-1.2zM192.9 298.5h1.2v1.2h-1.2zM205.6 300.9h1.2v1.2h-1.2zM184.1 305.7h1.2v1.2h-1.2zM180.8 314.9h1.2v1.2h-1.2zM192.3 301.6h1.2v1.2h-1.2zM210.6 318.6h1.2v1.2h-1.2zM190.2 323.7h1.2v1.2h-1.2zM199.4 295.5h1.2v1.2h-1.2zM187.3 303.3h1.2v1.2h-1.2zM209.4 317.0h1.2v1.2h-1.2zM186.4 324.5h1.2v1.2h-1.2zM197.9 294.4h1.2v1.2h-1.2zM183.4 317.0h1.2v1.2h-1.2zM187.5 323.4h1.2v1.2h-1.2zM205.4 298.6h1.2v1.2h-1.2zM182.3 318.0h1.2v1.2h-1.2zM191.5 295.0h1.2v1.2h-1.2zM210.6 304.9h1.2v1.2h-1.2zM208.4 306.7h1.2v1.2h-1.2zM187.8 315.9h1.2v1.2h-1.2zM188.2 304.9h1.2v1.2h-1.2zM185.8 298.8h1.2v1.2h-1.2zM193.2 316.1h1.2v1.2h-1.2zM187.4 316.3h1.2v1.2h-1.2zM191.2 297.5h1.2v1.2h-1.2zM184.5 313.8h1.2v1.2h-1.2zM184.1 308.6h1.2v1.2h-1.2zM187.8 307.8h1.2v1.2h-1.2zM184.9 308.4h1.2v1.2h-1.2zM207.1 321.7h1.2v1.2h-1.2zM210.2 323.5h1.2v1.2h-1.2zM189.8 302.0h1.2v1.2h-1.2zM190.8 300.2h1.2v1.2h-1.2zM210.6 326.4h1.2v1.2h-1.2zM211.7 312.0h1.2v1.2h-1.2zM204.5 295.2h1.2v1.2h-1.2zM193.9 300.9h1.2v1.2h-1.2zM183.2 324.3h1.2v1.2h-1.2zM184.3 322.7h1.2v1.2h-1.2zM188.1 325.4h1.2v1.2h-1.2zM188.9 320.1h1.2v1.2h-1.2zM205.4 303.0h1.2v1.2h-1.2zM187.1 307.7h1.2v1.2h-1.2zM194.1 311.5h1.2v1.2h-1.2zM207.6 311.4h1.2v1.2h-1.2zM209.7 329.3h1.2v1.2h-1.2zM183.2 314.9h1.2v1.2h-1.2zM200.7 318.7h1.2v1.2h-1.2zM206.6 324.2h1.2v1.2h-1.2zM204.8 301.5h1.2v1.2h-1.2zM192.4 295.5h1.2v1.2h-1.2zM189.4 324.3h1.2v1.2h-1.2zM211.5 309.3h1.2v1.2h-1.2zM188.0 305.6h1.2v1.2h-1.2zM206.9 301.0h1.2v1.2h-1.2zM188.4 326.3h1.2v1.2h-1.2zM187.4 327.9h1.2v1.2h-1.2zM203.0 309.7h1.2v1.2h-1.2zM207.8 327.9h1.2v1.2h-1.2zM194.6 299.8h1.2v1.2h-1.2zM206.7 325.8h1.2v1.2h-1.2zM211.2 322.7h1.2v1.2h-1.2zM182.4 305.7h1.2v1.2h-1.2zM187.2 311.0h1.2v1.2h-1.2zM183.2 316.8h1.2v1.2h-1.2zM188.1 317.9h1.2v1.2h-1.2zM188.8 329.0h1.2v1.2h-1.2zM207.1 311.8h1.2v1.2h-1.2zM191.5 301.5h1.2v1.2h-1.2zM191.7 296.3h1.2v1.2h-1.2zM188.9 301.1h1.2v1.2h-1.2zM185.9 310.1h1.2v1.2h-1.2zM210.1 328.6h1.2v1.2h-1.2zM182.8 324.3h1.2v1.2h-1.2zM187.3 328.0h1.2v1.2h-1.2zM187.6 321.8h1.2v1.2h-1.2zM180.9 313.2h1.2v1.2h-1.2zM207.9 315.7h1.2v1.2h-1.2zM209.0 303.4h1.2v1.2h-1.2zM188.4 329.6h1.2v1.2h-1.2zM196.8 295.2h1.2v1.2h-1.2zM182.0 307.5h1.2v1.2h-1.2zM204.0 309.2h1.2v1.2h-1.2zM183.5 320.1h1.2v1.2h-1.2zM208.6 328.0h1.2v1.2h-1.2zM194.4 298.4h1.2v1.2h-1.2zM198.4 297.6h1.2v1.2h-1.2zM204.1 311.2h1.2v1.2h-1.2zM185.3 309.1h1.2v1.2h-1.2zM187.7 326.1h1.2v1.2h-1.2zM210.4 327.5h1.2v1.2h-1.2zM187.7 305.7h1.2v1.2h-1.2zM187.4 329.9h1.2v1.2h-1.2zM183.3 304.7h1.2v1.2h-1.2zM184.3 302.9h1.2v1.2h-1.2zM193.2 314.9h1.2v1.2h-1.2zM191.2 319.5h1.2v1.2h-1.2zM200.5 296.8h1.2v1.2h-1.2zM184.7 311.9h1.2v1.2h-1.2zM190.2 300.9h1.2v1.2h-1.2zM186.5 308.8h1.2v1.2h-1.2zM206.7 306.9h1.2v1.2h-1.2zM188.0 325.0h1.2v1.2h-1.2zM210.0 320.2h1.2v1.2h-1.2zM209.8 303.7h1.2v1.2h-1.2zM183.8 308.3h1.2v1.2h-1.2zM193.3 299.6h1.2v1.2h-1.2zM210.6 328.8h1.2v1.2h-1.2zM198.6 303.4h1.2v1.2h-1.2zM207.5 324.0h1.2v1.2h-1.2zM186.6 317.7h1.2v1.2h-1.2zM208.0 329.0h1.2v1.2h-1.2zM210.7 312.7h1.2v1.2h-1.2zM208.7 314.2h1.2v1.2h-1.2zM186.4 313.5h1.2v1.2h-1.2zM188.5 313.7h1.2v1.2h-1.2zM206.1 299.9h1.2v1.2h-1.2zM209.2 307.0h1.2v1.2h-1.2zM195.4 296.0h1.2v1.2h-1.2zM195.1 295.2h1.2v1.2h-1.2zM207.1 310.9h1.2v1.2h-1.2zM183.7 319.1h1.2v1.2h-1.2zM186.3 316.0h1.2v1.2h-1.2zM195.3 315.1h1.2v1.2h-1.2zM196.4 296.0h1.2v1.2h-1.2zM207.4 309.2h1.2v1.2h-1.2zM204.8 300.1h1.2v1.2h-1.2zM202.9 300.4h1.2v1.2h-1.2zM183.0 317.9h1.2v1.2h-1.2zM182.9 327.4h1.2v1.2h-1.2zM184.1 327.1h1.2v1.2h-1.2zM182.1 306.0h1.2v1.2h-1.2zM184.6 306.1h1.2v1.2h-1.2zM204.1 295.1h1.2v1.2h-1.2zM197.3 296.1h1.2v1.2h-1.2zM209.8 317.6h1.2v1.2h-1.2zM181.9 322.4h1.2v1.2h-1.2zM183.9 310.5h1.2v1.2h-1.2zM184.3 327.1h1.2v1.2h-1.2zM182.5 325.7h1.2v1.2h-1.2zM184.7 315.9h1.2v1.2h-1.2zM182.0 305.8h1.2v1.2h-1.2zM184.2 324.3h1.2v1.2h-1.2zM181.3 310.9h1.2v1.2h-1.2zM207.1 302.9h1.2v1.2h-1.2zM187.0 316.1h1.2v1.2h-1.2zM210.6 309.5h1.2v1.2h-1.2zM188.4 300.4h1.2v1.2h-1.2zM193.1 296.2h1.2v1.2h-1.2zM185.2 323.7h1.2v1.2h-1.2zM205.1 325.0h1.2v1.2h-1.2zM195.1 303.0h1.2v1.2h-1.2zM206.9 317.8h1.2v1.2h-1.2zM204.6 300.2h1.2v1.2h-1.2zM208.9 324.7h1.2v1.2h-1.2zM185.7 328.2h1.2v1.2h-1.2zM191.6 295.3h1.2v1.2h-1.2zM199.4 299.2h1.2v1.2h-1.2zM204.3 296.4h1.2v1.2h-1.2zM207.1 300.6h1.2v1.2h-1.2zM191.4 302.6h1.2v1.2h-1.2zM207.1 328.0h1.2v1.2h-1.2zM185.8 329.8h1.2v1.2h-1.2zM195.8 296.3h1.2v1.2h-1.2zM196.8 295.2h1.2v1.2h-1.2z" fill="#2e2e2e" fill-opacity="0.85"/>
<polygon points="188,331 208,331 207.5,351 189,351" fill="#808080" filter="url(#bl)"/>
<path d="M189.8 350.7h1.2v1.2h-1.2zM198.9 331.2h1.2v1.2h-1.2zM195.9 334.9h1.2v1.2h-1.2zM209.4 335.6h1.2v1.2h-1.2zM196.9 336.6h1.2v1.2h-1.2zM187.7 349.4h1.2v1.2h-1.2zM202.6 350.1h1.2v1.2h-1.2zM206.5 342.9h1.2v1.2h-1.2zM199.5 345.1h1.2v1.2h-1.2zM194.7 345.7h1.2v1.2h-1.2zM188.3 342.5h1.2v1.2h-1.2zM202.5 332.2h1.2v1.2h-1.2zM186.1 338.5h1.2v1.2h-1.2zM204.2 336.2h1.2v1.2h-1.2zM189.2 345.1h1.2v1.2h-1.2zM203.2 335.5h1.2v1.2h-1.2zM189.1 339.0h1.2v1.2h-1.2zM189.5 329.3h1.2v1.2h-1.2zM205.7 341.1h1.2v1.2h-1.2zM189.6 335.8h1.2v1.2h-1.2zM193.0 339.0h1.2v1.2h-1.2zM208.3 347.5h1.2v1.2h-1.2zM187.7 345.3h1.2v1.2h-1.2zM196.3 334.8h1.2v1.2h-1.2zM186.7 343.4h1.2v1.2h-1.2zM209.2 329.7h1.2v1.2h-1.2zM207.8 348.6h1.2v1.2h-1.2zM193.2 345.5h1.2v1.2h-1.2zM202.7 345.0h1.2v1.2h-1.2zM200.6 347.6h1.2v1.2h-1.2zM206.6 334.5h1.2v1.2h-1.2zM197.7 349.9h1.2v1.2h-1.2zM187.5 341.7h1.2v1.2h-1.2zM204.9 349.7h1.2v1.2h-1.2zM201.5 341.0h1.2v1.2h-1.2zM197.4 335.1h1.2v1.2h-1.2zM193.5 344.9h1.2v1.2h-1.2zM207.1 350.8h1.2v1.2h-1.2zM208.2 335.2h1.2v1.2h-1.2zM191.2 330.9h1.2v1.2h-1.2zM207.4 341.9h1.2v1.2h-1.2zM193.3 343.9h1.2v1.2h-1.2zM205.6 345.7h1.2v1.2h-1.2zM189.8 341.9h1.2v1.2h-1.2zM185.5 335.4h1.2v1.2h-1.2zM199.2 343.8h1.2v1.2h-1.2zM190.3 344.7h1.2v1.2h-1.2zM193.8 330.4h1.2v1.2h-1.2zM209.7 341.9h1.2v1.2h-1.2zM200.2 332.7h1.2v1.2h-1.2zM204.0 330.6h1.2v1.2h-1.2zM189.1 348.2h1.2v1.2h-1.2zM204.1 339.2h1.2v1.2h-1.2zM189.0 340.1h1.2v1.2h-1.2zM191.8 337.5h1.2v1.2h-1.2zM189.4 350.0h1.2v1.2h-1.2zM193.7 339.0h1.2v1.2h-1.2zM202.1 350.1h1.2v1.2h-1.2zM188.2 332.1h1.2v1.2h-1.2zM186.7 330.1h1.2v1.2h-1.2zM190.4 335.9h1.2v1.2h-1.2zM196.2 344.8h1.2v1.2h-1.2zM203.8 349.7h1.2v1.2h-1.2zM204.9 336.1h1.2v1.2h-1.2zM209.7 336.9h1.2v1.2h-1.2zM188.5 349.5h1.2v1.2h-1.2zM207.8 338.9h1.2v1.2h-1.2zM189.7 336.3h1.2v1.2h-1.2zM208.5 331.3h1.2v1.2h-1.2zM203.1 329.8h1.2v1.2h-1.2zM201.2 347.6h1.2v1.2h-1.2zM200.0 329.2h1.2v1.2h-1.2zM186.8 340.3h1.2v1.2h-1.2zM204.0 331.9h1.2v1.2h-1.2zM194.6 351.0h1.2v1.2h-1.2zM189.7 333.3h1.2v1.2h-1.2zM206.3 351.3h1.2v1.2h-1.2zM203.5 329.2h1.2v1.2h-1.2zM189.2 351.3h1.2v1.2h-1.2zM198.9 347.3h1.2v1.2h-1.2zM205.3 342.2h1.2v1.2h-1.2zM190.8 336.2h1.2v1.2h-1.2zM206.6 351.3h1.2v1.2h-1.2zM190.2 344.7h1.2v1.2h-1.2zM204.4 333.2h1.2v1.2h-1.2zM199.4 344.4h1.2v1.2h-1.2zM194.7 337.7h1.2v1.2h-1.2zM193.1 346.0h1.2v1.2h-1.2zM207.4 342.7h1.2v1.2h-1.2zM187.3 345.9h1.2v1.2h-1.2zM194.4 350.2h1.2v1.2h-1.2zM196.4 342.9h1.2v1.2h-1.2zM199.9 349.6h1.2v1.2h-1.2zM202.0 341.7h1.2v1.2h-1.2zM199.7 343.0h1.2v1.2h-1.2zM202.9 350.3h1.2v1.2h-1.2zM195.3 340.3h1.2v1.2h-1.2zM203.6 349.1h1.2v1.2h-1.2zM205.4 345.3h1.2v1.2h-1.2zM199.7 332.1h1.2v1.2h-1.2zM186.5 331.8h1.2v1.2h-1.2zM204.1 330.3h1.2v1.2h-1.2zM190.6 343.8h1.2v1.2h-1.2zM195.0 329.6h1.2v1.2h-1.2zM208.8 348.9h1.2v1.2h-1.2zM208.1 331.6h1.2v1.2h-1.2zM197.0 337.6h1.2v1.2h-1.2zM209.9 330.6h1.2v1.2h-1.2zM186.7 339.1h1.2v1.2h-1.2zM196.8 338.0h1.2v1.2h-1.2zM200.0 335.5h1.2v1.2h-1.2zM203.4 339.0h1.2v1.2h-1.2zM209.5 330.8h1.2v1.2h-1.2zM200.9 333.7h1.2v1.2h-1.2zM200.6 341.5h1.2v1.2h-1.2zM191.3 338.0h1.2v1.2h-1.2zM198.1 343.4h1.2v1.2h-1.2zM207.5 342.3h1.2v1.2h-1.2zM207.2 342.5h1.2v1.2h-1.2zM199.1 332.3h1.2v1.2h-1.2zM190.4 347.6h1.2v1.2h-1.2zM200.2 330.8h1.2v1.2h-1.2zM190.9 340.2h1.2v1.2h-1.2zM188.0 330.9h1.2v1.2h-1.2zM194.4 351.2h1.2v1.2h-1.2zM191.5 351.4h1.2v1.2h-1.2zM189.5 338.2h1.2v1.2h-1.2zM206.8 338.3h1.2v1.2h-1.2zM206.8 342.1h1.2v1.2h-1.2zM199.6 347.7h1.2v1.2h-1.2zM204.4 332.0h1.2v1.2h-1.2zM198.7 350.5h1.2v1.2h-1.2zM192.5 332.5h1.2v1.2h-1.2zM208.2 344.1h1.2v1.2h-1.2zM204.6 343.7h1.2v1.2h-1.2zM187.8 349.8h1.2v1.2h-1.2zM190.5 348.4h1.2v1.2h-1.2zM197.5 337.5h1.2v1.2h-1.2zM190.7 349.8h1.2v1.2h-1.2zM205.9 332.4h1.2v1.2h-1.2zM209.4 333.5h1.2v1.2h-1.2zM209.2 343.3h1.2v1.2h-1.2zM197.8 346.0h1.2v1.2h-1.2zM206.0 338.5h1.2v1.2h-1.2zM206.4 349.2h1.2v1.2h-1.2zM195.6 346.0h1.2v1.2h-1.2zM200.7 342.3h1.2v1.2h-1.2zM199.6 332.7h1.2v1.2h-1.2zM206.3 344.2h1.2v1.2h-1.2zM187.5 341.3h1.2v1.2h-1.2zM190.5 339.5h1.2v1.2h-1.2zM204.2 330.0h1.2v1.2h-1.2zM203.6 338.3h1.2v1.2h-1.2zM187.4 331.4h1.2v1.2h-1.2zM209.3 338.6h1.2v1.2h-1.2zM191.8 346.6h1.2v1.2h-1.2zM198.7 330.6h1.2v1.2h-1.2zM199.2 348.6h1.2v1.2h-1.2zM198.4 329.9h1.2v1.2h-1.2zM194.2 332.5h1.2v1.2h-1.2zM202.6 331.3h1.2v1.2h-1.2zM195.1 345.5h1.2v1.2h-1.2zM189.9 341.4h1.2v1.2h-1.2zM188.4 330.8h1.2v1.2h-1.2zM203.1 336.3h1.2v1.2h-1.2zM201.5 343.5h1.2v1.2h-1.2zM206.1 331.5h1.2v1.2h-1.2zM197.1 330.2h1.2v1.2h-1.2zM204.8 339.8h1.2v1.2h-1.2zM202.3 349.3h1.2v1.2h-1.2zM201.5 332.7h1.2v1.2h-1.2zM193.2 347.5h1.2v1.2h-1.2zM193.5 343.1h1.2v1.2h-1.2zM196.6 344.5h1.2v1.2h-1.2zM204.8 344.0h1.2v1.2h-1.2zM206.6 333.4h1.2v1.2h-1.2zM205.3 333.5h1.2v1.2h-1.2zM200.3 348.6h1.2v1.2h-1.2zM202.2 330.1h1.2v1.2h-1.2zM205.8 336.6h1.2v1.2h-1.2zM188.2 351.2h1.2v1.2h-1.2zM194.4 332.2h1.2v1.2h-1.2zM206.1 343.9h1.2v1.2h-1.2zM187.7 329.6h1.2v1.2h-1.2zM208.1 351.0h1.2v1.2h-1.2zM207.8 347.9h1.2v1.2h-1.2zM186.4 350.1h1.2v1.2h-1.2zM192.8 337.8h1.2v1.2h-1.2zM189.6 335.4h1.2v1.2h-1.2zM186.4 334.6h1.2v1.2h-1.2zM187.1 350.8h1.2v1.2h-1.2zM188.6 345.7h1.2v1.2h-1.2zM204.3 345.5h1.2v1.2h-1.2zM189.7 347.9h1.2v1.2h-1.2zM192.3 349.1h1.2v1.2h-1.2zM186.4 330.4h1.2v1.2h-1.2zM187.5 333.4h1.2v1.2h-1.2zM208.0 335.3h1.2v1.2h-1.2zM198.1 334.3h1.2v1.2h-1.2zM202.9 338.6h1.2v1.2h-1.2zM194.6 335.3h1.2v1.2h-1.2zM189.2 339.9h1.2v1.2h-1.2zM207.1 333.5h1.2v1.2h-1.2zM207.4 330.9h1.2v1.2h-1.2zM200.4 331.7h1.2v1.2h-1.2zM200.7 335.7h1.2v1.2h-1.2zM202.5 348.3h1.2v1.2h-1.2zM191.9 348.0h1.2v1.2h-1.2zM190.9 339.4h1.2v1.2h-1.2zM187.0 339.0h1.2v1.2h-1.2zM208.6 332.8h1.2v1.2h-1.2zM197.1 330.4h1.2v1.2h-1.2zM203.2 334.4h1.2v1.2h-1.2zM204.0 343.5h1.2v1.2h-1.2zM209.1 333.8h1.2v1.2h-1.2zM202.7 343.1h1.2v1.2h-1.2zM187.0 341.0h1.2v1.2h-1.2zM209.1 348.2h1.2v1.2h-1.2zM193.6 343.2h1.2v1.2h-1.2zM193.4 346.9h1.2v1.2h-1.2zM203.2 333.0h1.2v1.2h-1.2zM204.5 350.9h1.2v1.2h-1.2zM200.8 347.8h1.2v1.2h-1.2zM194.1 331.3h1.2v1.2h-1.2zM202.9 346.2h1.2v1.2h-1.2zM200.6 349.3h1.2v1.2h-1.2zM189.0 341.2h1.2v1.2h-1.2zM187.7 347.6h1.2v1.2h-1.2zM190.5 331.7h1.2v1.2h-1.2zM205.3 340.7h1.2v1.2h-1.2zM201.7 347.7h1.2v1.2h-1.2zM205.6 349.6h1.2v1.2h-1.2zM189.0 330.6h1.2v1.2h-1.2zM207.0 338.9h1.2v1.2h-1.2zM206.1 348.9h1.2v1.2h-1.2zM202.8 339.0h1.2v1.2h-1.2zM201.9 341.6h1.2v1.2h-1.2zM202.7 330.7h1.2v1.2h-1.2zM192.8 341.3h1.2v1.2h-1.2zM200.5 336.3h1.2v1.2h-1.2zM193.1 330.8h1.2v1.2h-1.2zM207.3 350.0h1.2v1.2h-1.2zM191.4 335.4h1.2v1.2h-1.2zM187.9 344.9h1.2v1.2h-1.2zM201.1 337.8h1.2v1.2h-1.2zM204.8 347.7h1.2v1.2h-1.2zM186.4 330.3h1.2v1.2h-1.2zM201.7 336.4h1.2v1.2h-1.2zM207.0 333.1h1.2v1.2h-1.2zM193.0 331.8h1.2v1.2h-1.2zM206.4 349.3h1.2v1.2h-1.2zM202.5 333.9h1.2v1.2h-1.2zM194.0 348.8h1.2v1.2h-1.2zM192.9 336.1h1.2v1.2h-1.2zM202.9 348.4h1.2v1.2h-1.2z" fill="#2e2e2e" fill-opacity="0.85"/>
<path d="M179.2 335.6h1.2v1.2h-1.2zM180.8 328.6h1.2v1.2h-1.2zM185.4 332.8h1.2v1.2h-1.2zM183.8 310.3h1.2v1.2h-1.2zM185.3 324.2h1.2v1.2h-1.2zM183.3 341.1h1.2v1.2h-1.2zM181.7 341.6h1.2v1.2h-1.2zM181.7 328.8h1.2v1.2h-1.2zM182.5 321.4h1.2v1.2h-1.2zM181.3 305.8h1.2v1.2h-1.2zM184.0 345.1h1.2v1.2h-1.2zM183.4 304.3h1.2v1.2h-1.2zM182.1 308.7h1.2v1.2h-1.2zM182.8 344.8h1.2v1.2h-1.2zM182.8 332.4h1.2v1.2h-1.2zM182.0 313.6h1.2v1.2h-1.2zM181.6 335.9h1.2v1.2h-1.2zM184.7 315.6h1.2v1.2h-1.2zM181.0 308.7h1.2v1.2h-1.2zM179.1 330.7h1.2v1.2h-1.2zM182.3 323.3h1.2v1.2h-1.2zM182.8 309.7h1.2v1.2h-1.2zM182.5 308.2h1.2v1.2h-1.2zM179.8 320.6h1.2v1.2h-1.2zM180.1 319.6h1.2v1.2h-1.2z" fill="#2e2e2e" fill-opacity="0.85"/>
<polygon points="150,351 151,346 158,341 166,337 170,338 169,346 166,351" fill="#8a8a8a" filter="url(#bl)"/>
<path d="M158.4 340.3h1.2v1.2h-1.2zM167.8 349.3h1.2v1.2h-1.2zM158.3 347.4h1.2v1.2h-1.2zM163.0 336.4h1.2v1.2h-1.2zM148.6 346.5h1.2v1.2h-1.2zM158.0 350.1h1.2v1.2h-1.2zM158.5 337.7h1.2v1.2h-1.2zM157.0 345.7h1.2v1.2h-1.2zM165.5 346.3h1.2v1.2h-1.2zM150.5 351.3h1.2v1.2h-1.2zM167.4 338.7h1.2v1.2h-1.2zM169.1 347.2h1.2v1.2h-1.2zM148.9 346.3h1.2v1.2h-1.2zM154.8 346.5h1.2v1.2h-1.2zM169.4 339.5h1.2v1.2h-1.2zM168.5 343.2h1.2v1.2h-1.2zM168.4 349.1h1.2v1.2h-1.2zM164.6 335.1h1.2v1.2h-1.2zM160.5 337.0h1.2v1.2h-1.2zM152.1 343.3h1.2v1.2h-1.2zM158.6 343.1h1.2v1.2h-1.2zM163.9 348.5h1.2v1.2h-1.2zM150.2 342.3h1.2v1.2h-1.2zM153.0 351.0h1.2v1.2h-1.2zM169.7 339.4h1.2v1.2h-1.2zM167.3 334.8h1.2v1.2h-1.2zM153.4 345.0h1.2v1.2h-1.2zM170.2 338.3h1.2v1.2h-1.2zM151.9 342.0h1.2v1.2h-1.2zM163.4 346.3h1.2v1.2h-1.2zM166.5 340.2h1.2v1.2h-1.2zM151.4 346.7h1.2v1.2h-1.2zM164.7 345.7h1.2v1.2h-1.2zM155.4 340.4h1.2v1.2h-1.2zM160.0 340.5h1.2v1.2h-1.2zM168.2 334.5h1.2v1.2h-1.2zM150.1 349.6h1.2v1.2h-1.2zM154.4 346.6h1.2v1.2h-1.2zM162.7 336.3h1.2v1.2h-1.2zM164.2 344.2h1.2v1.2h-1.2zM151.1 347.1h1.2v1.2h-1.2zM165.1 344.1h1.2v1.2h-1.2zM171.9 336.5h1.2v1.2h-1.2zM162.1 341.4h1.2v1.2h-1.2zM161.8 335.7h1.2v1.2h-1.2zM167.8 338.3h1.2v1.2h-1.2zM166.6 345.2h1.2v1.2h-1.2zM169.2 335.8h1.2v1.2h-1.2zM163.5 335.7h1.2v1.2h-1.2zM163.0 342.8h1.2v1.2h-1.2zM150.3 350.3h1.2v1.2h-1.2zM168.9 340.1h1.2v1.2h-1.2zM158.0 337.1h1.2v1.2h-1.2zM161.0 341.2h1.2v1.2h-1.2zM153.3 346.2h1.2v1.2h-1.2zM167.1 348.7h1.2v1.2h-1.2zM170.8 337.0h1.2v1.2h-1.2zM169.4 340.8h1.2v1.2h-1.2zM158.9 343.6h1.2v1.2h-1.2zM163.3 342.0h1.2v1.2h-1.2zM150.7 350.0h1.2v1.2h-1.2zM151.2 351.5h1.2v1.2h-1.2zM154.5 347.7h1.2v1.2h-1.2zM153.7 347.5h1.2v1.2h-1.2zM166.1 336.6h1.2v1.2h-1.2zM169.2 337.8h1.2v1.2h-1.2zM149.5 345.9h1.2v1.2h-1.2zM153.9 344.1h1.2v1.2h-1.2zM170.0 341.3h1.2v1.2h-1.2zM148.3 345.6h1.2v1.2h-1.2zM149.4 350.2h1.2v1.2h-1.2zM167.3 343.9h1.2v1.2h-1.2zM162.9 335.9h1.2v1.2h-1.2zM166.1 341.9h1.2v1.2h-1.2zM161.1 341.1h1.2v1.2h-1.2zM165.0 345.7h1.2v1.2h-1.2zM151.0 349.9h1.2v1.2h-1.2zM147.3 345.9h1.2v1.2h-1.2zM153.7 345.8h1.2v1.2h-1.2zM168.6 343.1h1.2v1.2h-1.2zM165.1 337.4h1.2v1.2h-1.2zM167.6 334.4h1.2v1.2h-1.2zM159.4 336.5h1.2v1.2h-1.2zM149.7 348.9h1.2v1.2h-1.2zM159.0 349.6h1.2v1.2h-1.2zM166.3 336.7h1.2v1.2h-1.2zM166.0 348.7h1.2v1.2h-1.2zM149.5 351.2h1.2v1.2h-1.2zM149.5 347.4h1.2v1.2h-1.2zM167.1 344.6h1.2v1.2h-1.2zM162.9 345.6h1.2v1.2h-1.2zM168.9 341.9h1.2v1.2h-1.2zM154.1 339.3h1.2v1.2h-1.2zM153.2 342.4h1.2v1.2h-1.2zM170.5 345.1h1.2v1.2h-1.2zM166.6 347.0h1.2v1.2h-1.2zM160.1 339.8h1.2v1.2h-1.2zM157.6 345.5h1.2v1.2h-1.2zM149.1 350.1h1.2v1.2h-1.2zM148.8 349.4h1.2v1.2h-1.2zM158.1 337.5h1.2v1.2h-1.2zM154.4 348.3h1.2v1.2h-1.2zM167.6 350.5h1.2v1.2h-1.2zM156.4 341.2h1.2v1.2h-1.2zM167.1 349.3h1.2v1.2h-1.2zM159.8 339.2h1.2v1.2h-1.2zM147.9 347.3h1.2v1.2h-1.2zM164.0 348.3h1.2v1.2h-1.2zM162.5 350.9h1.2v1.2h-1.2zM169.3 337.1h1.2v1.2h-1.2zM159.6 349.7h1.2v1.2h-1.2zM166.8 344.9h1.2v1.2h-1.2zM161.6 345.3h1.2v1.2h-1.2zM158.4 347.8h1.2v1.2h-1.2zM168.1 337.2h1.2v1.2h-1.2zM170.3 344.8h1.2v1.2h-1.2zM167.8 334.5h1.2v1.2h-1.2zM153.2 348.1h1.2v1.2h-1.2zM154.1 346.2h1.2v1.2h-1.2zM166.0 348.6h1.2v1.2h-1.2zM152.5 348.4h1.2v1.2h-1.2zM151.8 350.8h1.2v1.2h-1.2zM151.2 349.4h1.2v1.2h-1.2zM170.2 336.7h1.2v1.2h-1.2zM159.3 345.5h1.2v1.2h-1.2zM170.1 340.1h1.2v1.2h-1.2zM165.6 342.6h1.2v1.2h-1.2zM163.8 346.5h1.2v1.2h-1.2zM165.5 339.5h1.2v1.2h-1.2zM159.0 344.1h1.2v1.2h-1.2zM168.4 342.7h1.2v1.2h-1.2zM161.6 339.2h1.2v1.2h-1.2zM157.8 347.4h1.2v1.2h-1.2zM159.0 349.1h1.2v1.2h-1.2zM161.6 347.8h1.2v1.2h-1.2zM162.5 345.0h1.2v1.2h-1.2zM158.2 347.5h1.2v1.2h-1.2zM151.9 349.4h1.2v1.2h-1.2zM151.7 341.1h1.2v1.2h-1.2zM161.3 337.8h1.2v1.2h-1.2zM154.3 344.2h1.2v1.2h-1.2zM157.4 342.9h1.2v1.2h-1.2zM171.4 338.2h1.2v1.2h-1.2zM152.9 341.0h1.2v1.2h-1.2zM157.6 346.8h1.2v1.2h-1.2zM164.6 338.7h1.2v1.2h-1.2zM171.7 337.9h1.2v1.2h-1.2zM167.4 342.2h1.2v1.2h-1.2zM169.5 337.7h1.2v1.2h-1.2zM156.1 338.5h1.2v1.2h-1.2zM167.0 349.6h1.2v1.2h-1.2zM151.8 344.2h1.2v1.2h-1.2zM147.8 347.6h1.2v1.2h-1.2zM152.8 348.6h1.2v1.2h-1.2zM151.4 343.3h1.2v1.2h-1.2zM161.2 347.5h1.2v1.2h-1.2zM170.1 339.6h1.2v1.2h-1.2zM164.1 341.9h1.2v1.2h-1.2zM153.6 344.9h1.2v1.2h-1.2zM160.8 344.1h1.2v1.2h-1.2zM149.6 347.1h1.2v1.2h-1.2zM156.1 344.9h1.2v1.2h-1.2zM157.4 351.4h1.2v1.2h-1.2zM167.0 346.0h1.2v1.2h-1.2zM150.1 343.8h1.2v1.2h-1.2zM170.9 342.8h1.2v1.2h-1.2zM166.8 337.8h1.2v1.2h-1.2zM160.7 347.3h1.2v1.2h-1.2zM161.1 348.0h1.2v1.2h-1.2zM154.2 340.1h1.2v1.2h-1.2zM154.9 346.5h1.2v1.2h-1.2zM152.4 348.9h1.2v1.2h-1.2zM151.9 341.1h1.2v1.2h-1.2zM167.5 333.9h1.2v1.2h-1.2zM153.9 348.8h1.2v1.2h-1.2zM156.3 338.6h1.2v1.2h-1.2zM155.1 340.1h1.2v1.2h-1.2zM163.8 339.7h1.2v1.2h-1.2zM156.2 348.2h1.2v1.2h-1.2zM159.0 349.5h1.2v1.2h-1.2zM167.2 339.6h1.2v1.2h-1.2zM150.7 351.3h1.2v1.2h-1.2zM157.8 342.8h1.2v1.2h-1.2zM160.0 345.5h1.2v1.2h-1.2zM159.2 351.3h1.2v1.2h-1.2zM164.5 338.4h1.2v1.2h-1.2zM166.3 339.3h1.2v1.2h-1.2zM165.5 337.6h1.2v1.2h-1.2zM170.6 343.3h1.2v1.2h-1.2zM160.7 347.8h1.2v1.2h-1.2zM159.5 343.8h1.2v1.2h-1.2zM166.0 336.8h1.2v1.2h-1.2zM150.7 346.5h1.2v1.2h-1.2zM157.3 338.6h1.2v1.2h-1.2zM157.4 347.2h1.2v1.2h-1.2zM166.8 344.9h1.2v1.2h-1.2zM155.1 343.3h1.2v1.2h-1.2zM154.0 347.1h1.2v1.2h-1.2zM155.8 345.0h1.2v1.2h-1.2zM167.4 344.6h1.2v1.2h-1.2zM151.0 348.5h1.2v1.2h-1.2zM154.9 351.2h1.2v1.2h-1.2zM162.7 351.4h1.2v1.2h-1.2zM165.4 341.6h1.2v1.2h-1.2zM153.7 347.3h1.2v1.2h-1.2zM156.9 339.1h1.2v1.2h-1.2zM159.5 344.6h1.2v1.2h-1.2zM167.1 339.6h1.2v1.2h-1.2zM164.5 339.6h1.2v1.2h-1.2zM156.2 342.8h1.2v1.2h-1.2zM154.7 346.9h1.2v1.2h-1.2zM152.9 346.9h1.2v1.2h-1.2zM160.6 348.6h1.2v1.2h-1.2zM158.8 343.1h1.2v1.2h-1.2zM165.9 342.2h1.2v1.2h-1.2zM155.1 346.5h1.2v1.2h-1.2zM161.0 346.8h1.2v1.2h-1.2zM167.6 342.8h1.2v1.2h-1.2zM153.7 343.3h1.2v1.2h-1.2zM148.5 349.6h1.2v1.2h-1.2zM155.9 350.0h1.2v1.2h-1.2zM164.9 335.1h1.2v1.2h-1.2zM162.9 345.0h1.2v1.2h-1.2zM154.1 345.4h1.2v1.2h-1.2zM163.4 335.3h1.2v1.2h-1.2zM167.3 348.2h1.2v1.2h-1.2zM153.7 341.0h1.2v1.2h-1.2zM155.8 350.6h1.2v1.2h-1.2zM166.5 335.1h1.2v1.2h-1.2zM166.8 335.1h1.2v1.2h-1.2zM166.3 339.9h1.2v1.2h-1.2zM153.2 347.2h1.2v1.2h-1.2zM149.7 351.4h1.2v1.2h-1.2zM157.8 350.1h1.2v1.2h-1.2z" fill="#2e2e2e" fill-opacity="0.85"/>
<path d="M158.3 303.0h1.2v1.2h-1.2zM168.9 299.4h1.2v1.2h-1.2zM164.2 308.2h1.2v1.2h-1.2zM161.4 308.2h1.2v1.2h-1.2zM156.4 309.5h1.2v1.2h-1.2zM167.7 307.5h1.2v1.2h-1.2zM153.7 312.5h1.2v1.2h-1.2zM151.1 313.9h1.2v1.2h-1.2zM159.9 303.6h1.2v1.2h-1.2zM168.2 298.8h1.2v1.2h-1.2zM166.3 298.7h1.2v1.2h-1.2zM162.9 299.7h1.2v1.2h-1.2zM156.4 305.8h1.2v1.2h-1.2zM162.2 304.4h1.2v1.2h-1.2zM160.8 309.5h1.2v1.2h-1.2zM154.6 309.7h1.2v1.2h-1.2zM161.4 304.3h1.2v1.2h-1.2zM160.8 301.2h1.2v1.2h-1.2zM175.8 304.3h1.2v1.2h-1.2zM151.2 310.7h1.2v1.2h-1.2zM160.3 311.0h1.2v1.2h-1.2zM167.9 308.7h1.2v1.2h-1.2zM166.6 300.6h1.2v1.2h-1.2zM162.2 307.0h1.2v1.2h-1.2zM164.9 305.5h1.2v1.2h-1.2zM149.8 312.8h1.2v1.2h-1.2zM176.6 299.4h1.2v1.2h-1.2zM168.7 303.6h1.2v1.2h-1.2zM159.8 309.1h1.2v1.2h-1.2zM161.7 311.4h1.2v1.2h-1.2zM155.5 304.0h1.2v1.2h-1.2zM167.8 306.6h1.2v1.2h-1.2zM158.8 309.0h1.2v1.2h-1.2zM166.8 306.5h1.2v1.2h-1.2zM158.0 315.6h1.2v1.2h-1.2zM177.1 299.1h1.2v1.2h-1.2zM157.4 314.7h1.2v1.2h-1.2zM168.5 300.4h1.2v1.2h-1.2zM150.1 309.2h1.2v1.2h-1.2zM156.6 306.4h1.2v1.2h-1.2z" fill="#2e2e2e" fill-opacity="0.85"/>
<path d="M150.0 316.0h1.2v1.2h-1.2zM152.0 320.0h1.2v1.2h-1.2zM147.0 313.0h1.2v1.2h-1.2zM163.0 322.0h1.2v1.2h-1.2zM156.0 325.0h1.2v1.2h-1.2z" fill="#2e2e2e" fill-opacity="0.85"/>
<polygon points="41,463 42,455 46,450 52,446.5 58,443.5 63,442.5 66,446 67,455 66,463" fill="#6a6a6a" filter="url(#bl)"/>
<path d="M64.0 441.1h1.2v1.2h-1.2zM52.6 445.0h1.2v1.2h-1.2zM49.2 450.3h1.2v1.2h-1.2zM64.6 448.8h1.2v1.2h-1.2zM64.7 448.5h1.2v1.2h-1.2zM41.8 454.4h1.2v1.2h-1.2zM57.5 444.6h1.2v1.2h-1.2zM50.4 449.6h1.2v1.2h-1.2zM46.0 449.8h1.2v1.2h-1.2zM63.9 447.5h1.2v1.2h-1.2zM52.2 448.5h1.2v1.2h-1.2zM46.0 452.7h1.2v1.2h-1.2zM45.2 447.7h1.2v1.2h-1.2zM42.7 456.1h1.2v1.2h-1.2zM51.5 447.2h1.2v1.2h-1.2zM45.8 449.8h1.2v1.2h-1.2zM61.5 444.1h1.2v1.2h-1.2zM65.1 455.1h1.2v1.2h-1.2zM66.4 460.5h1.2v1.2h-1.2zM55.4 442.6h1.2v1.2h-1.2zM41.6 456.7h1.2v1.2h-1.2zM65.2 458.8h1.2v1.2h-1.2zM56.2 449.2h1.2v1.2h-1.2zM43.8 455.8h1.2v1.2h-1.2zM44.7 451.3h1.2v1.2h-1.2zM45.2 459.2h1.2v1.2h-1.2zM65.6 450.8h1.2v1.2h-1.2zM66.6 455.5h1.2v1.2h-1.2zM68.1 449.6h1.2v1.2h-1.2zM67.4 447.0h1.2v1.2h-1.2zM41.7 455.9h1.2v1.2h-1.2zM58.5 460.6h1.2v1.2h-1.2zM55.2 449.6h1.2v1.2h-1.2zM51.1 447.2h1.2v1.2h-1.2zM49.5 457.0h1.2v1.2h-1.2zM63.0 443.7h1.2v1.2h-1.2zM48.2 447.0h1.2v1.2h-1.2zM67.6 452.4h1.2v1.2h-1.2zM65.2 451.1h1.2v1.2h-1.2zM51.9 447.0h1.2v1.2h-1.2zM65.9 454.8h1.2v1.2h-1.2zM61.1 451.6h1.2v1.2h-1.2zM67.8 446.4h1.2v1.2h-1.2zM44.7 452.2h1.2v1.2h-1.2zM44.3 456.7h1.2v1.2h-1.2zM61.8 442.2h1.2v1.2h-1.2zM67.0 460.3h1.2v1.2h-1.2zM39.5 454.4h1.2v1.2h-1.2zM63.9 445.8h1.2v1.2h-1.2zM55.6 444.5h1.2v1.2h-1.2zM63.9 441.2h1.2v1.2h-1.2zM66.3 444.5h1.2v1.2h-1.2zM67.8 457.2h1.2v1.2h-1.2zM67.7 444.7h1.2v1.2h-1.2zM45.7 451.3h1.2v1.2h-1.2zM66.8 445.7h1.2v1.2h-1.2zM65.2 458.9h1.2v1.2h-1.2zM48.1 449.0h1.2v1.2h-1.2zM54.4 445.4h1.2v1.2h-1.2zM48.5 461.0h1.2v1.2h-1.2zM66.0 443.5h1.2v1.2h-1.2zM67.9 453.2h1.2v1.2h-1.2zM56.1 442.1h1.2v1.2h-1.2zM48.0 449.8h1.2v1.2h-1.2zM64.3 441.9h1.2v1.2h-1.2zM59.1 445.0h1.2v1.2h-1.2zM53.5 446.5h1.2v1.2h-1.2zM47.5 450.1h1.2v1.2h-1.2zM66.3 456.3h1.2v1.2h-1.2zM55.4 444.1h1.2v1.2h-1.2zM57.1 442.2h1.2v1.2h-1.2zM53.0 445.1h1.2v1.2h-1.2zM55.8 445.6h1.2v1.2h-1.2zM66.1 459.4h1.2v1.2h-1.2zM44.0 453.3h1.2v1.2h-1.2zM49.1 461.4h1.2v1.2h-1.2zM48.8 455.6h1.2v1.2h-1.2zM67.2 448.2h1.2v1.2h-1.2z" fill="#2e2e2e" fill-opacity="0.85"/>
<polygon points="73,403.5 80,401.5 92,401 98,403 97.5,410 85,411.5 73,410.5" fill="#7a7a7a" filter="url(#bl)"/>
<path d="M98.6 403.1h1.2v1.2h-1.2zM79.3 407.5h1.2v1.2h-1.2zM90.4 411.1h1.2v1.2h-1.2zM92.8 399.5h1.2v1.2h-1.2zM65.3 404.8h1.2v1.2h-1.2zM87.4 412.6h1.2v1.2h-1.2zM92.4 406.7h1.2v1.2h-1.2zM62.5 408.0h1.2v1.2h-1.2zM91.0 406.4h1.2v1.2h-1.2zM82.4 409.9h1.2v1.2h-1.2zM89.9 408.2h1.2v1.2h-1.2zM99.1 409.2h1.2v1.2h-1.2zM93.8 403.9h1.2v1.2h-1.2zM95.0 411.3h1.2v1.2h-1.2zM80.4 411.9h1.2v1.2h-1.2zM78.4 405.8h1.2v1.2h-1.2zM94.2 402.0h1.2v1.2h-1.2zM98.8 408.9h1.2v1.2h-1.2zM71.5 404.8h1.2v1.2h-1.2zM75.5 410.2h1.2v1.2h-1.2zM98.9 401.4h1.2v1.2h-1.2zM64.7 402.9h1.2v1.2h-1.2zM96.6 402.8h1.2v1.2h-1.2zM74.9 408.5h1.2v1.2h-1.2zM96.9 401.8h1.2v1.2h-1.2zM70.4 408.6h1.2v1.2h-1.2zM98.1 407.6h1.2v1.2h-1.2zM74.8 410.8h1.2v1.2h-1.2zM92.1 401.7h1.2v1.2h-1.2zM77.6 400.4h1.2v1.2h-1.2zM82.4 406.2h1.2v1.2h-1.2zM84.6 412.3h1.2v1.2h-1.2zM74.2 410.2h1.2v1.2h-1.2zM85.9 412.8h1.2v1.2h-1.2zM77.0 401.6h1.2v1.2h-1.2zM74.0 407.8h1.2v1.2h-1.2zM70.2 410.4h1.2v1.2h-1.2zM91.6 405.7h1.2v1.2h-1.2zM68.6 406.5h1.2v1.2h-1.2zM76.7 400.3h1.2v1.2h-1.2zM85.2 408.9h1.2v1.2h-1.2zM82.7 409.1h1.2v1.2h-1.2zM70.1 407.4h1.2v1.2h-1.2zM95.7 400.5h1.2v1.2h-1.2zM93.6 399.4h1.2v1.2h-1.2zM61.9 406.3h1.2v1.2h-1.2zM82.6 404.5h1.2v1.2h-1.2zM91.4 404.1h1.2v1.2h-1.2zM72.0 402.6h1.2v1.2h-1.2zM62.1 406.9h1.2v1.2h-1.2zM89.0 406.9h1.2v1.2h-1.2zM77.2 409.3h1.2v1.2h-1.2zM76.4 401.0h1.2v1.2h-1.2zM96.8 409.3h1.2v1.2h-1.2zM83.5 400.9h1.2v1.2h-1.2zM94.9 403.6h1.2v1.2h-1.2zM70.9 409.6h1.2v1.2h-1.2zM95.1 402.2h1.2v1.2h-1.2zM99.6 402.2h1.2v1.2h-1.2zM93.2 405.8h1.2v1.2h-1.2zM71.7 404.8h1.2v1.2h-1.2zM67.5 402.5h1.2v1.2h-1.2zM87.9 408.1h1.2v1.2h-1.2zM96.6 407.7h1.2v1.2h-1.2zM92.9 406.1h1.2v1.2h-1.2zM69.2 409.6h1.2v1.2h-1.2zM77.2 400.5h1.2v1.2h-1.2zM84.1 404.2h1.2v1.2h-1.2zM73.0 405.0h1.2v1.2h-1.2zM90.7 408.2h1.2v1.2h-1.2zM90.3 405.6h1.2v1.2h-1.2zM80.1 408.7h1.2v1.2h-1.2zM95.1 405.2h1.2v1.2h-1.2zM99.5 400.9h1.2v1.2h-1.2zM88.2 409.0h1.2v1.2h-1.2zM82.2 404.3h1.2v1.2h-1.2zM92.5 407.8h1.2v1.2h-1.2zM84.2 401.2h1.2v1.2h-1.2zM87.7 401.6h1.2v1.2h-1.2zM87.3 406.4h1.2v1.2h-1.2zM92.2 405.9h1.2v1.2h-1.2zM77.0 404.4h1.2v1.2h-1.2zM63.8 402.4h1.2v1.2h-1.2zM75.6 403.5h1.2v1.2h-1.2zM88.7 399.6h1.2v1.2h-1.2zM82.5 408.1h1.2v1.2h-1.2zM90.1 402.6h1.2v1.2h-1.2zM73.6 408.1h1.2v1.2h-1.2zM86.1 408.4h1.2v1.2h-1.2zM84.5 400.1h1.2v1.2h-1.2zM80.9 400.0h1.2v1.2h-1.2zM75.9 403.7h1.2v1.2h-1.2zM100.1 408.3h1.2v1.2h-1.2zM70.4 404.0h1.2v1.2h-1.2zM86.9 400.9h1.2v1.2h-1.2zM99.9 410.8h1.2v1.2h-1.2zM93.7 401.3h1.2v1.2h-1.2zM95.7 401.7h1.2v1.2h-1.2zM88.2 411.2h1.2v1.2h-1.2zM76.5 403.0h1.2v1.2h-1.2zM92.0 407.2h1.2v1.2h-1.2zM79.7 401.0h1.2v1.2h-1.2zM98.1 409.5h1.2v1.2h-1.2zM60.6 406.0h1.2v1.2h-1.2zM76.0 407.2h1.2v1.2h-1.2zM69.5 404.7h1.2v1.2h-1.2zM84.0 412.1h1.2v1.2h-1.2zM82.8 403.0h1.2v1.2h-1.2zM60.6 405.1h1.2v1.2h-1.2zM80.1 409.5h1.2v1.2h-1.2zM67.7 405.6h1.2v1.2h-1.2zM92.4 402.5h1.2v1.2h-1.2zM96.0 407.3h1.2v1.2h-1.2zM94.7 404.1h1.2v1.2h-1.2zM62.3 403.0h1.2v1.2h-1.2zM73.1 407.8h1.2v1.2h-1.2zM66.8 409.4h1.2v1.2h-1.2zM67.1 408.9h1.2v1.2h-1.2zM88.5 401.9h1.2v1.2h-1.2zM80.5 409.0h1.2v1.2h-1.2zM100.2 405.5h1.2v1.2h-1.2zM81.8 405.3h1.2v1.2h-1.2zM64.9 404.9h1.2v1.2h-1.2zM63.0 405.8h1.2v1.2h-1.2zM97.1 407.7h1.2v1.2h-1.2zM82.3 400.6h1.2v1.2h-1.2zM98.3 410.1h1.2v1.2h-1.2zM88.5 403.0h1.2v1.2h-1.2zM98.7 406.4h1.2v1.2h-1.2zM88.2 403.0h1.2v1.2h-1.2zM80.9 402.1h1.2v1.2h-1.2zM69.0 406.6h1.2v1.2h-1.2zM78.1 403.0h1.2v1.2h-1.2zM60.7 403.7h1.2v1.2h-1.2zM88.6 400.4h1.2v1.2h-1.2zM77.7 407.4h1.2v1.2h-1.2zM91.9 406.9h1.2v1.2h-1.2zM96.8 411.4h1.2v1.2h-1.2zM85.3 412.6h1.2v1.2h-1.2zM72.4 412.0h1.2v1.2h-1.2zM72.0 405.5h1.2v1.2h-1.2zM88.3 410.6h1.2v1.2h-1.2zM90.8 399.6h1.2v1.2h-1.2zM86.4 410.0h1.2v1.2h-1.2zM71.4 402.7h1.2v1.2h-1.2zM88.0 409.8h1.2v1.2h-1.2zM97.8 409.9h1.2v1.2h-1.2zM84.4 406.4h1.2v1.2h-1.2zM90.4 409.8h1.2v1.2h-1.2zM99.3 402.4h1.2v1.2h-1.2zM88.7 412.0h1.2v1.2h-1.2zM85.7 400.5h1.2v1.2h-1.2zM81.0 408.1h1.2v1.2h-1.2zM72.8 404.9h1.2v1.2h-1.2zM93.1 402.1h1.2v1.2h-1.2zM62.1 405.9h1.2v1.2h-1.2zM61.8 403.0h1.2v1.2h-1.2zM89.8 399.4h1.2v1.2h-1.2zM94.8 410.9h1.2v1.2h-1.2zM73.4 407.9h1.2v1.2h-1.2zM82.8 401.9h1.2v1.2h-1.2zM71.5 403.2h1.2v1.2h-1.2zM99.3 405.4h1.2v1.2h-1.2zM66.1 406.7h1.2v1.2h-1.2zM91.8 407.5h1.2v1.2h-1.2zM68.8 409.5h1.2v1.2h-1.2zM89.6 404.8h1.2v1.2h-1.2zM66.4 402.2h1.2v1.2h-1.2zM93.7 410.2h1.2v1.2h-1.2zM69.3 410.5h1.2v1.2h-1.2zM84.9 408.8h1.2v1.2h-1.2zM82.6 408.2h1.2v1.2h-1.2zM77.1 405.2h1.2v1.2h-1.2zM97.5 410.9h1.2v1.2h-1.2zM79.3 412.1h1.2v1.2h-1.2zM83.1 410.5h1.2v1.2h-1.2zM73.4 406.4h1.2v1.2h-1.2zM92.3 400.3h1.2v1.2h-1.2zM77.0 400.7h1.2v1.2h-1.2zM84.7 399.3h1.2v1.2h-1.2zM81.7 403.5h1.2v1.2h-1.2zM74.7 408.8h1.2v1.2h-1.2zM77.9 401.7h1.2v1.2h-1.2zM72.6 403.4h1.2v1.2h-1.2zM90.8 402.3h1.2v1.2h-1.2zM99.9 407.3h1.2v1.2h-1.2zM96.1 405.2h1.2v1.2h-1.2zM77.9 408.0h1.2v1.2h-1.2zM97.7 410.7h1.2v1.2h-1.2zM80.4 407.7h1.2v1.2h-1.2zM99.6 405.9h1.2v1.2h-1.2zM100.1 404.6h1.2v1.2h-1.2zM77.4 400.0h1.2v1.2h-1.2zM73.4 400.6h1.2v1.2h-1.2zM97.7 402.1h1.2v1.2h-1.2zM82.4 404.7h1.2v1.2h-1.2zM87.8 407.6h1.2v1.2h-1.2zM65.5 402.1h1.2v1.2h-1.2zM70.3 410.2h1.2v1.2h-1.2zM89.9 403.5h1.2v1.2h-1.2zM83.5 399.5h1.2v1.2h-1.2zM89.5 411.2h1.2v1.2h-1.2zM67.5 408.0h1.2v1.2h-1.2zM74.2 408.9h1.2v1.2h-1.2zM89.2 412.3h1.2v1.2h-1.2zM79.0 404.7h1.2v1.2h-1.2zM70.9 405.6h1.2v1.2h-1.2zM67.8 409.5h1.2v1.2h-1.2zM98.7 409.8h1.2v1.2h-1.2zM78.1 406.7h1.2v1.2h-1.2zM85.9 403.9h1.2v1.2h-1.2zM80.1 410.7h1.2v1.2h-1.2zM85.0 401.5h1.2v1.2h-1.2zM79.7 406.9h1.2v1.2h-1.2zM82.2 407.1h1.2v1.2h-1.2zM89.2 407.1h1.2v1.2h-1.2zM72.7 403.4h1.2v1.2h-1.2zM63.0 403.2h1.2v1.2h-1.2zM70.5 410.5h1.2v1.2h-1.2zM71.2 410.0h1.2v1.2h-1.2zM77.1 405.9h1.2v1.2h-1.2zM80.7 402.4h1.2v1.2h-1.2zM66.5 405.6h1.2v1.2h-1.2zM66.7 406.4h1.2v1.2h-1.2zM86.3 407.9h1.2v1.2h-1.2zM92.5 401.5h1.2v1.2h-1.2zM77.7 402.5h1.2v1.2h-1.2zM78.0 402.6h1.2v1.2h-1.2zM90.8 403.4h1.2v1.2h-1.2zM63.7 404.0h1.2v1.2h-1.2zM92.0 407.6h1.2v1.2h-1.2zM74.5 410.7h1.2v1.2h-1.2zM85.8 400.7h1.2v1.2h-1.2zM85.5 400.3h1.2v1.2h-1.2zM92.7 408.0h1.2v1.2h-1.2zM91.7 408.1h1.2v1.2h-1.2zM100.5 404.9h1.2v1.2h-1.2zM96.1 403.9h1.2v1.2h-1.2zM75.5 404.9h1.2v1.2h-1.2zM72.1 404.5h1.2v1.2h-1.2zM83.1 406.1h1.2v1.2h-1.2zM99.8 406.8h1.2v1.2h-1.2zM94.1 402.9h1.2v1.2h-1.2zM71.0 401.5h1.2v1.2h-1.2zM80.8 410.2h1.2v1.2h-1.2zM80.3 408.8h1.2v1.2h-1.2zM61.9 403.2h1.2v1.2h-1.2zM99.5 410.5h1.2v1.2h-1.2zM73.4 410.8h1.2v1.2h-1.2zM91.5 411.9h1.2v1.2h-1.2zM79.7 407.5h1.2v1.2h-1.2zM90.5 409.4h1.2v1.2h-1.2zM81.8 405.4h1.2v1.2h-1.2zM87.4 399.6h1.2v1.2h-1.2zM70.1 401.6h1.2v1.2h-1.2zM79.6 408.7h1.2v1.2h-1.2zM96.3 400.5h1.2v1.2h-1.2zM90.8 407.7h1.2v1.2h-1.2zM78.4 407.3h1.2v1.2h-1.2zM62.0 406.0h1.2v1.2h-1.2zM99.6 405.9h1.2v1.2h-1.2zM74.1 406.4h1.2v1.2h-1.2zM83.0 408.2h1.2v1.2h-1.2zM74.1 408.1h1.2v1.2h-1.2zM87.3 406.1h1.2v1.2h-1.2zM71.0 402.0h1.2v1.2h-1.2zM70.7 411.5h1.2v1.2h-1.2zM85.8 406.7h1.2v1.2h-1.2zM80.4 400.0h1.2v1.2h-1.2zM60.6 403.6h1.2v1.2h-1.2z" fill="#2e2e2e" fill-opacity="0.85"/>
<path d="M86.2 416.8h1.2v1.2h-1.2zM80.6 417.5h1.2v1.2h-1.2zM82.1 449.4h1.2v1.2h-1.2zM81.3 445.6h1.2v1.2h-1.2zM77.1 419.0h1.2v1.2h-1.2zM77.9 452.7h1.2v1.2h-1.2zM74.0 434.9h1.2v1.2h-1.2zM89.2 439.4h1.2v1.2h-1.2zM74.1 437.0h1.2v1.2h-1.2zM95.8 431.9h1.2v1.2h-1.2zM73.2 441.8h1.2v1.2h-1.2zM84.7 454.3h1.2v1.2h-1.2zM89.5 450.0h1.2v1.2h-1.2zM85.2 432.5h1.2v1.2h-1.2zM88.8 458.1h1.2v1.2h-1.2zM90.3 457.6h1.2v1.2h-1.2zM83.1 418.4h1.2v1.2h-1.2zM75.5 441.7h1.2v1.2h-1.2zM74.1 458.4h1.2v1.2h-1.2zM76.4 446.0h1.2v1.2h-1.2zM86.6 425.3h1.2v1.2h-1.2zM74.7 412.7h1.2v1.2h-1.2zM80.4 457.8h1.2v1.2h-1.2zM84.8 430.2h1.2v1.2h-1.2zM88.4 446.1h1.2v1.2h-1.2zM90.5 442.9h1.2v1.2h-1.2zM94.4 428.0h1.2v1.2h-1.2zM75.1 434.3h1.2v1.2h-1.2zM87.5 417.5h1.2v1.2h-1.2zM80.9 443.8h1.2v1.2h-1.2zM78.1 424.0h1.2v1.2h-1.2zM93.7 434.5h1.2v1.2h-1.2zM79.0 440.0h1.2v1.2h-1.2zM80.3 459.6h1.2v1.2h-1.2zM76.2 448.9h1.2v1.2h-1.2zM79.3 423.9h1.2v1.2h-1.2zM77.6 439.2h1.2v1.2h-1.2zM90.7 429.3h1.2v1.2h-1.2zM87.9 451.1h1.2v1.2h-1.2zM93.5 435.5h1.2v1.2h-1.2zM76.3 461.5h1.2v1.2h-1.2zM74.4 456.3h1.2v1.2h-1.2zM79.3 420.3h1.2v1.2h-1.2zM91.3 460.1h1.2v1.2h-1.2zM74.0 420.3h1.2v1.2h-1.2zM78.1 422.2h1.2v1.2h-1.2zM87.9 413.4h1.2v1.2h-1.2zM80.2 436.6h1.2v1.2h-1.2zM91.4 440.0h1.2v1.2h-1.2zM83.1 458.5h1.2v1.2h-1.2zM93.8 443.4h1.2v1.2h-1.2zM86.5 430.7h1.2v1.2h-1.2zM95.1 441.4h1.2v1.2h-1.2zM75.5 430.5h1.2v1.2h-1.2zM95.3 452.9h1.2v1.2h-1.2zM89.6 449.6h1.2v1.2h-1.2zM94.4 411.4h1.2v1.2h-1.2zM88.5 443.6h1.2v1.2h-1.2zM91.0 430.5h1.2v1.2h-1.2zM75.5 442.2h1.2v1.2h-1.2zM95.2 460.1h1.2v1.2h-1.2zM69.3 429.4h1.2v1.2h-1.2zM94.0 417.4h1.2v1.2h-1.2zM91.5 459.9h1.2v1.2h-1.2zM90.7 455.9h1.2v1.2h-1.2zM69.2 413.3h1.2v1.2h-1.2zM92.5 433.4h1.2v1.2h-1.2zM87.0 431.8h1.2v1.2h-1.2zM70.4 417.4h1.2v1.2h-1.2zM77.8 413.0h1.2v1.2h-1.2zM71.8 418.0h1.2v1.2h-1.2zM76.8 459.2h1.2v1.2h-1.2zM75.0 442.1h1.2v1.2h-1.2zM71.0 459.2h1.2v1.2h-1.2zM69.8 445.1h1.2v1.2h-1.2zM69.6 415.9h1.2v1.2h-1.2zM85.0 445.0h1.2v1.2h-1.2zM77.6 411.7h1.2v1.2h-1.2zM83.0 439.4h1.2v1.2h-1.2zM75.7 458.3h1.2v1.2h-1.2zM72.8 429.1h1.2v1.2h-1.2zM95.7 433.9h1.2v1.2h-1.2zM80.9 444.9h1.2v1.2h-1.2zM86.2 459.4h1.2v1.2h-1.2zM87.9 449.2h1.2v1.2h-1.2zM74.5 443.8h1.2v1.2h-1.2zM81.6 456.1h1.2v1.2h-1.2zM86.2 426.7h1.2v1.2h-1.2zM76.1 447.4h1.2v1.2h-1.2zM75.4 442.7h1.2v1.2h-1.2zM95.3 458.7h1.2v1.2h-1.2zM73.1 416.3h1.2v1.2h-1.2zM87.4 445.3h1.2v1.2h-1.2zM81.0 441.4h1.2v1.2h-1.2zM85.1 458.1h1.2v1.2h-1.2zM74.1 449.0h1.2v1.2h-1.2zM86.9 428.0h1.2v1.2h-1.2zM75.4 434.9h1.2v1.2h-1.2zM91.1 446.7h1.2v1.2h-1.2zM75.0 440.3h1.2v1.2h-1.2zM81.2 421.7h1.2v1.2h-1.2zM91.4 459.8h1.2v1.2h-1.2zM74.6 439.5h1.2v1.2h-1.2zM92.0 451.2h1.2v1.2h-1.2zM72.5 448.2h1.2v1.2h-1.2zM97.2 423.3h1.2v1.2h-1.2zM77.9 422.5h1.2v1.2h-1.2zM71.9 436.4h1.2v1.2h-1.2zM91.2 450.0h1.2v1.2h-1.2zM80.9 441.2h1.2v1.2h-1.2zM77.2 425.8h1.2v1.2h-1.2zM79.2 447.1h1.2v1.2h-1.2zM93.7 429.3h1.2v1.2h-1.2zM92.8 452.9h1.2v1.2h-1.2zM93.9 445.5h1.2v1.2h-1.2zM80.1 457.9h1.2v1.2h-1.2zM81.8 443.9h1.2v1.2h-1.2zM70.5 423.7h1.2v1.2h-1.2zM79.8 454.8h1.2v1.2h-1.2zM97.6 415.5h1.2v1.2h-1.2zM74.2 453.1h1.2v1.2h-1.2zM88.7 422.4h1.2v1.2h-1.2zM77.5 415.2h1.2v1.2h-1.2zM70.9 461.5h1.2v1.2h-1.2zM77.7 429.7h1.2v1.2h-1.2zM87.3 455.2h1.2v1.2h-1.2zM76.1 445.7h1.2v1.2h-1.2zM69.8 452.9h1.2v1.2h-1.2zM91.5 411.5h1.2v1.2h-1.2zM69.7 445.3h1.2v1.2h-1.2zM94.5 427.2h1.2v1.2h-1.2zM82.5 426.8h1.2v1.2h-1.2zM80.3 452.3h1.2v1.2h-1.2zM86.9 443.5h1.2v1.2h-1.2zM72.5 432.3h1.2v1.2h-1.2zM69.5 426.9h1.2v1.2h-1.2zM87.8 442.3h1.2v1.2h-1.2zM73.0 434.7h1.2v1.2h-1.2zM73.1 430.3h1.2v1.2h-1.2zM81.0 422.5h1.2v1.2h-1.2zM71.9 439.5h1.2v1.2h-1.2zM70.7 418.0h1.2v1.2h-1.2zM96.8 449.4h1.2v1.2h-1.2zM78.4 441.8h1.2v1.2h-1.2zM85.8 417.6h1.2v1.2h-1.2zM93.8 460.5h1.2v1.2h-1.2zM79.4 455.6h1.2v1.2h-1.2zM94.6 435.3h1.2v1.2h-1.2zM91.0 437.3h1.2v1.2h-1.2zM69.7 424.7h1.2v1.2h-1.2zM83.1 422.5h1.2v1.2h-1.2zM92.8 460.0h1.2v1.2h-1.2zM75.5 424.1h1.2v1.2h-1.2zM82.3 454.1h1.2v1.2h-1.2zM77.0 441.3h1.2v1.2h-1.2zM72.6 416.0h1.2v1.2h-1.2zM78.1 417.4h1.2v1.2h-1.2zM90.3 459.8h1.2v1.2h-1.2zM78.9 456.3h1.2v1.2h-1.2zM86.0 418.2h1.2v1.2h-1.2zM86.1 455.7h1.2v1.2h-1.2zM76.2 435.0h1.2v1.2h-1.2zM77.1 445.0h1.2v1.2h-1.2zM77.6 433.8h1.2v1.2h-1.2zM83.3 446.5h1.2v1.2h-1.2zM96.9 459.3h1.2v1.2h-1.2zM79.7 436.4h1.2v1.2h-1.2zM70.0 429.8h1.2v1.2h-1.2zM81.0 449.2h1.2v1.2h-1.2zM90.9 457.6h1.2v1.2h-1.2zM92.9 417.8h1.2v1.2h-1.2zM83.0 443.3h1.2v1.2h-1.2zM74.8 449.8h1.2v1.2h-1.2zM92.9 451.3h1.2v1.2h-1.2zM78.3 423.2h1.2v1.2h-1.2zM72.6 411.9h1.2v1.2h-1.2zM71.3 414.9h1.2v1.2h-1.2zM95.9 446.3h1.2v1.2h-1.2zM89.1 456.0h1.2v1.2h-1.2zM72.8 458.9h1.2v1.2h-1.2zM95.0 420.4h1.2v1.2h-1.2zM73.3 448.1h1.2v1.2h-1.2zM84.0 421.9h1.2v1.2h-1.2zM88.9 417.0h1.2v1.2h-1.2zM96.6 422.3h1.2v1.2h-1.2zM74.4 442.1h1.2v1.2h-1.2zM86.9 442.8h1.2v1.2h-1.2zM87.0 433.5h1.2v1.2h-1.2zM84.0 454.9h1.2v1.2h-1.2zM76.5 428.8h1.2v1.2h-1.2zM81.4 419.6h1.2v1.2h-1.2zM79.4 442.6h1.2v1.2h-1.2zM81.1 440.6h1.2v1.2h-1.2zM89.8 453.3h1.2v1.2h-1.2zM96.5 422.8h1.2v1.2h-1.2zM80.8 419.3h1.2v1.2h-1.2zM88.8 451.5h1.2v1.2h-1.2zM79.0 453.6h1.2v1.2h-1.2zM77.8 424.2h1.2v1.2h-1.2zM92.8 449.4h1.2v1.2h-1.2zM86.8 422.6h1.2v1.2h-1.2zM78.9 449.2h1.2v1.2h-1.2zM89.3 448.0h1.2v1.2h-1.2zM86.6 419.6h1.2v1.2h-1.2zM77.4 415.1h1.2v1.2h-1.2zM95.0 448.1h1.2v1.2h-1.2zM80.0 416.1h1.2v1.2h-1.2zM97.5 415.0h1.2v1.2h-1.2zM83.9 457.3h1.2v1.2h-1.2zM80.3 419.7h1.2v1.2h-1.2zM74.1 414.3h1.2v1.2h-1.2zM81.4 443.4h1.2v1.2h-1.2zM77.7 434.5h1.2v1.2h-1.2zM85.9 442.2h1.2v1.2h-1.2zM81.5 450.1h1.2v1.2h-1.2zM76.7 456.8h1.2v1.2h-1.2zM86.9 418.1h1.2v1.2h-1.2zM81.6 424.5h1.2v1.2h-1.2zM80.8 419.0h1.2v1.2h-1.2zM77.1 416.6h1.2v1.2h-1.2zM85.5 448.2h1.2v1.2h-1.2zM77.4 454.9h1.2v1.2h-1.2zM76.5 412.6h1.2v1.2h-1.2zM71.0 413.8h1.2v1.2h-1.2zM95.6 438.1h1.2v1.2h-1.2zM93.1 440.4h1.2v1.2h-1.2zM69.1 444.8h1.2v1.2h-1.2zM91.7 435.0h1.2v1.2h-1.2zM90.4 422.3h1.2v1.2h-1.2zM96.4 461.5h1.2v1.2h-1.2zM96.5 430.7h1.2v1.2h-1.2zM93.7 443.5h1.2v1.2h-1.2zM78.1 426.8h1.2v1.2h-1.2zM71.5 459.0h1.2v1.2h-1.2zM79.0 426.7h1.2v1.2h-1.2zM93.8 449.5h1.2v1.2h-1.2zM70.8 438.2h1.2v1.2h-1.2zM80.0 419.7h1.2v1.2h-1.2zM90.0 452.2h1.2v1.2h-1.2zM83.9 415.5h1.2v1.2h-1.2zM70.4 413.7h1.2v1.2h-1.2zM95.1 453.7h1.2v1.2h-1.2zM81.7 421.3h1.2v1.2h-1.2zM93.2 438.3h1.2v1.2h-1.2zM78.9 412.3h1.2v1.2h-1.2zM73.5 436.2h1.2v1.2h-1.2zM74.1 444.7h1.2v1.2h-1.2zM93.9 449.8h1.2v1.2h-1.2zM79.2 412.4h1.2v1.2h-1.2zM81.3 445.2h1.2v1.2h-1.2zM88.3 461.4h1.2v1.2h-1.2zM82.2 452.1h1.2v1.2h-1.2zM87.2 449.4h1.2v1.2h-1.2zM81.4 461.0h1.2v1.2h-1.2zM71.6 435.9h1.2v1.2h-1.2zM85.8 456.0h1.2v1.2h-1.2zM89.3 431.7h1.2v1.2h-1.2zM77.0 440.3h1.2v1.2h-1.2zM96.2 443.9h1.2v1.2h-1.2zM75.2 453.4h1.2v1.2h-1.2zM75.7 421.1h1.2v1.2h-1.2zM82.4 444.2h1.2v1.2h-1.2zM93.5 418.8h1.2v1.2h-1.2zM77.6 415.6h1.2v1.2h-1.2zM74.0 461.7h1.2v1.2h-1.2zM86.7 419.1h1.2v1.2h-1.2zM93.2 413.3h1.2v1.2h-1.2zM69.3 455.0h1.2v1.2h-1.2zM87.3 446.3h1.2v1.2h-1.2zM82.1 413.6h1.2v1.2h-1.2zM75.1 453.7h1.2v1.2h-1.2zM69.3 429.1h1.2v1.2h-1.2zM90.1 414.7h1.2v1.2h-1.2zM76.3 442.1h1.2v1.2h-1.2zM95.2 432.0h1.2v1.2h-1.2zM88.7 438.5h1.2v1.2h-1.2zM89.1 436.5h1.2v1.2h-1.2zM83.9 446.2h1.2v1.2h-1.2zM70.0 434.7h1.2v1.2h-1.2zM73.0 443.5h1.2v1.2h-1.2zM73.5 446.8h1.2v1.2h-1.2zM70.5 416.3h1.2v1.2h-1.2zM71.6 442.0h1.2v1.2h-1.2zM79.2 412.4h1.2v1.2h-1.2zM83.0 440.3h1.2v1.2h-1.2zM84.3 446.2h1.2v1.2h-1.2z" fill="#2e2e2e" fill-opacity="0.85"/>
<path d="M91.2 426.8h1.2v1.2h-1.2zM88.6 435.3h1.2v1.2h-1.2zM86.8 432.0h1.2v1.2h-1.2zM88.6 429.2h1.2v1.2h-1.2zM90.8 412.2h1.2v1.2h-1.2zM92.1 440.8h1.2v1.2h-1.2zM91.9 432.0h1.2v1.2h-1.2zM89.4 443.1h1.2v1.2h-1.2zM91.7 449.5h1.2v1.2h-1.2zM90.9 438.9h1.2v1.2h-1.2zM90.3 422.2h1.2v1.2h-1.2zM91.0 440.5h1.2v1.2h-1.2zM89.6 437.1h1.2v1.2h-1.2zM89.6 435.1h1.2v1.2h-1.2zM89.9 430.7h1.2v1.2h-1.2zM90.6 418.1h1.2v1.2h-1.2zM83.1 408.4h1.2v1.2h-1.2zM95.7 422.1h1.2v1.2h-1.2zM91.2 424.0h1.2v1.2h-1.2zM86.3 419.6h1.2v1.2h-1.2zM92.6 418.4h1.2v1.2h-1.2zM87.3 432.9h1.2v1.2h-1.2zM91.2 431.8h1.2v1.2h-1.2zM86.7 429.4h1.2v1.2h-1.2zM89.7 419.9h1.2v1.2h-1.2zM92.0 421.8h1.2v1.2h-1.2zM90.6 430.0h1.2v1.2h-1.2zM90.2 439.4h1.2v1.2h-1.2zM85.4 427.9h1.2v1.2h-1.2zM86.9 433.3h1.2v1.2h-1.2zM85.8 436.0h1.2v1.2h-1.2zM89.2 438.3h1.2v1.2h-1.2zM91.1 445.4h1.2v1.2h-1.2zM87.8 424.4h1.2v1.2h-1.2zM86.8 423.7h1.2v1.2h-1.2zM85.7 430.3h1.2v1.2h-1.2zM84.4 427.4h1.2v1.2h-1.2zM87.0 424.1h1.2v1.2h-1.2zM86.2 424.8h1.2v1.2h-1.2zM88.9 429.7h1.2v1.2h-1.2zM91.8 423.5h1.2v1.2h-1.2zM92.4 436.9h1.2v1.2h-1.2zM90.5 425.3h1.2v1.2h-1.2zM91.1 411.3h1.2v1.2h-1.2zM88.1 431.5h1.2v1.2h-1.2zM87.6 429.7h1.2v1.2h-1.2zM90.4 427.0h1.2v1.2h-1.2zM89.1 433.2h1.2v1.2h-1.2zM87.0 421.9h1.2v1.2h-1.2zM85.9 435.5h1.2v1.2h-1.2zM91.2 416.2h1.2v1.2h-1.2zM89.9 442.1h1.2v1.2h-1.2zM84.0 417.6h1.2v1.2h-1.2zM90.2 427.9h1.2v1.2h-1.2zM87.7 412.1h1.2v1.2h-1.2zM89.5 420.1h1.2v1.2h-1.2zM93.2 436.1h1.2v1.2h-1.2zM89.7 440.0h1.2v1.2h-1.2zM86.5 417.0h1.2v1.2h-1.2zM85.3 413.2h1.2v1.2h-1.2zM86.5 417.4h1.2v1.2h-1.2zM89.8 416.1h1.2v1.2h-1.2zM93.4 435.3h1.2v1.2h-1.2zM84.6 427.1h1.2v1.2h-1.2zM87.1 421.4h1.2v1.2h-1.2zM92.3 449.7h1.2v1.2h-1.2zM86.2 414.9h1.2v1.2h-1.2zM85.7 422.6h1.2v1.2h-1.2zM93.5 421.4h1.2v1.2h-1.2zM89.7 411.5h1.2v1.2h-1.2zM87.0 423.7h1.2v1.2h-1.2zM88.3 430.9h1.2v1.2h-1.2zM89.6 425.8h1.2v1.2h-1.2zM85.9 430.3h1.2v1.2h-1.2zM90.0 434.9h1.2v1.2h-1.2zM89.1 441.9h1.2v1.2h-1.2zM87.3 414.3h1.2v1.2h-1.2zM89.0 416.6h1.2v1.2h-1.2zM86.6 424.9h1.2v1.2h-1.2zM94.0 452.6h1.2v1.2h-1.2z" fill="#2e2e2e" fill-opacity="0.85"/>
<path d="M65.7 404.1h1.2v1.2h-1.2zM67.2 416.2h1.2v1.2h-1.2zM61.7 403.2h1.2v1.2h-1.2zM63.8 416.3h1.2v1.2h-1.2zM59.1 400.4h1.2v1.2h-1.2zM68.4 417.3h1.2v1.2h-1.2zM63.0 415.1h1.2v1.2h-1.2zM60.6 421.8h1.2v1.2h-1.2zM58.5 401.6h1.2v1.2h-1.2zM66.8 418.8h1.2v1.2h-1.2zM64.2 409.2h1.2v1.2h-1.2zM59.4 413.5h1.2v1.2h-1.2zM64.6 403.5h1.2v1.2h-1.2zM62.4 405.8h1.2v1.2h-1.2zM63.7 421.9h1.2v1.2h-1.2zM62.6 418.0h1.2v1.2h-1.2zM60.1 411.5h1.2v1.2h-1.2zM66.8 408.7h1.2v1.2h-1.2zM58.3 418.1h1.2v1.2h-1.2zM66.8 403.0h1.2v1.2h-1.2zM67.3 411.0h1.2v1.2h-1.2zM62.2 400.2h1.2v1.2h-1.2zM61.3 418.0h1.2v1.2h-1.2zM63.4 424.7h1.2v1.2h-1.2zM59.5 413.9h1.2v1.2h-1.2z" fill="#2e2e2e" fill-opacity="0.85"/>
<polygon points="183,400 189,397.5 198,397.5 202.5,400 203,412 202,428 200.5,440 198.5,452 196.5,461 188,461 185.5,450 183.5,438 182.5,420" fill="#6c6c6c" filter="url(#bl)"/>
<path d="M205.0 415.0h1.2v1.2h-1.2zM183.9 409.0h1.2v1.2h-1.2zM198.4 444.7h1.2v1.2h-1.2zM185.2 434.5h1.2v1.2h-1.2zM191.8 422.5h1.2v1.2h-1.2zM202.7 409.6h1.2v1.2h-1.2zM180.5 411.1h1.2v1.2h-1.2zM205.0 411.3h1.2v1.2h-1.2zM183.9 446.2h1.2v1.2h-1.2zM180.8 428.8h1.2v1.2h-1.2zM196.0 397.9h1.2v1.2h-1.2zM205.8 409.3h1.2v1.2h-1.2zM195.1 431.4h1.2v1.2h-1.2zM186.4 460.2h1.2v1.2h-1.2zM194.6 443.3h1.2v1.2h-1.2zM184.3 397.3h1.2v1.2h-1.2zM205.8 411.7h1.2v1.2h-1.2zM182.2 445.7h1.2v1.2h-1.2zM187.1 431.6h1.2v1.2h-1.2zM194.3 438.1h1.2v1.2h-1.2zM204.8 421.9h1.2v1.2h-1.2zM179.8 405.0h1.2v1.2h-1.2zM184.1 415.6h1.2v1.2h-1.2zM203.7 397.8h1.2v1.2h-1.2zM202.1 399.4h1.2v1.2h-1.2zM188.0 449.7h1.2v1.2h-1.2zM201.1 458.7h1.2v1.2h-1.2zM180.6 430.4h1.2v1.2h-1.2zM201.8 454.0h1.2v1.2h-1.2zM198.9 446.4h1.2v1.2h-1.2zM178.5 423.4h1.2v1.2h-1.2zM183.9 405.3h1.2v1.2h-1.2zM187.0 458.3h1.2v1.2h-1.2zM186.8 457.1h1.2v1.2h-1.2zM184.9 458.6h1.2v1.2h-1.2zM181.2 431.8h1.2v1.2h-1.2zM200.0 431.0h1.2v1.2h-1.2zM189.5 411.2h1.2v1.2h-1.2zM180.5 441.3h1.2v1.2h-1.2zM183.7 408.0h1.2v1.2h-1.2zM183.0 457.3h1.2v1.2h-1.2zM189.3 459.3h1.2v1.2h-1.2zM180.8 421.6h1.2v1.2h-1.2zM201.2 452.8h1.2v1.2h-1.2zM197.6 429.7h1.2v1.2h-1.2zM201.7 448.3h1.2v1.2h-1.2zM202.4 449.1h1.2v1.2h-1.2zM178.5 412.3h1.2v1.2h-1.2zM201.3 448.4h1.2v1.2h-1.2zM195.6 430.4h1.2v1.2h-1.2zM179.0 407.1h1.2v1.2h-1.2zM204.5 403.6h1.2v1.2h-1.2zM194.4 455.4h1.2v1.2h-1.2zM202.1 446.4h1.2v1.2h-1.2zM205.3 409.9h1.2v1.2h-1.2zM183.8 454.2h1.2v1.2h-1.2zM182.7 419.7h1.2v1.2h-1.2zM180.0 402.7h1.2v1.2h-1.2zM199.5 444.1h1.2v1.2h-1.2zM184.5 425.8h1.2v1.2h-1.2zM185.6 450.8h1.2v1.2h-1.2zM183.3 415.1h1.2v1.2h-1.2zM198.9 455.0h1.2v1.2h-1.2zM198.7 455.7h1.2v1.2h-1.2zM202.5 409.2h1.2v1.2h-1.2zM198.4 438.8h1.2v1.2h-1.2zM202.4 438.3h1.2v1.2h-1.2zM204.5 424.9h1.2v1.2h-1.2zM184.0 402.7h1.2v1.2h-1.2zM185.3 456.2h1.2v1.2h-1.2zM187.5 440.9h1.2v1.2h-1.2zM180.6 444.4h1.2v1.2h-1.2zM192.2 461.1h1.2v1.2h-1.2zM188.1 399.4h1.2v1.2h-1.2zM201.7 434.4h1.2v1.2h-1.2zM184.6 416.2h1.2v1.2h-1.2zM200.5 446.3h1.2v1.2h-1.2zM203.6 409.1h1.2v1.2h-1.2zM183.0 433.4h1.2v1.2h-1.2zM190.4 458.2h1.2v1.2h-1.2zM185.4 460.3h1.2v1.2h-1.2zM190.5 450.7h1.2v1.2h-1.2zM200.3 429.7h1.2v1.2h-1.2zM182.1 437.2h1.2v1.2h-1.2zM198.3 461.4h1.2v1.2h-1.2zM192.8 460.7h1.2v1.2h-1.2zM199.4 443.1h1.2v1.2h-1.2zM185.5 450.2h1.2v1.2h-1.2zM186.0 454.3h1.2v1.2h-1.2zM198.3 444.5h1.2v1.2h-1.2zM184.6 400.0h1.2v1.2h-1.2zM202.8 417.9h1.2v1.2h-1.2zM181.7 447.4h1.2v1.2h-1.2zM186.6 401.9h1.2v1.2h-1.2zM181.8 405.4h1.2v1.2h-1.2zM195.0 456.6h1.2v1.2h-1.2zM200.9 447.7h1.2v1.2h-1.2zM186.2 449.7h1.2v1.2h-1.2zM200.0 396.6h1.2v1.2h-1.2zM198.2 450.9h1.2v1.2h-1.2zM182.1 425.8h1.2v1.2h-1.2zM184.8 445.6h1.2v1.2h-1.2zM203.2 421.5h1.2v1.2h-1.2zM201.0 431.0h1.2v1.2h-1.2zM200.9 399.0h1.2v1.2h-1.2zM188.0 397.0h1.2v1.2h-1.2zM190.8 398.2h1.2v1.2h-1.2zM183.8 408.6h1.2v1.2h-1.2zM204.4 426.8h1.2v1.2h-1.2zM203.7 428.3h1.2v1.2h-1.2zM182.9 429.3h1.2v1.2h-1.2zM194.9 420.1h1.2v1.2h-1.2zM184.4 404.2h1.2v1.2h-1.2zM183.1 453.6h1.2v1.2h-1.2zM200.3 435.1h1.2v1.2h-1.2zM195.5 457.4h1.2v1.2h-1.2zM183.8 402.2h1.2v1.2h-1.2zM195.6 436.0h1.2v1.2h-1.2zM201.7 415.0h1.2v1.2h-1.2zM201.4 456.1h1.2v1.2h-1.2zM203.0 422.5h1.2v1.2h-1.2zM199.8 449.0h1.2v1.2h-1.2zM181.4 417.5h1.2v1.2h-1.2zM181.6 450.9h1.2v1.2h-1.2zM190.5 419.6h1.2v1.2h-1.2zM184.4 402.6h1.2v1.2h-1.2zM204.3 414.9h1.2v1.2h-1.2zM184.9 450.4h1.2v1.2h-1.2zM180.7 436.6h1.2v1.2h-1.2zM180.5 416.4h1.2v1.2h-1.2zM202.9 414.2h1.2v1.2h-1.2zM178.9 416.1h1.2v1.2h-1.2zM184.5 415.8h1.2v1.2h-1.2zM199.1 460.6h1.2v1.2h-1.2zM190.6 396.0h1.2v1.2h-1.2zM199.3 395.6h1.2v1.2h-1.2zM180.9 406.4h1.2v1.2h-1.2zM185.8 407.0h1.2v1.2h-1.2zM204.6 418.1h1.2v1.2h-1.2zM183.4 445.4h1.2v1.2h-1.2zM201.6 427.5h1.2v1.2h-1.2zM184.4 440.7h1.2v1.2h-1.2zM183.0 422.9h1.2v1.2h-1.2zM203.7 437.6h1.2v1.2h-1.2zM199.5 436.6h1.2v1.2h-1.2zM187.4 458.6h1.2v1.2h-1.2zM185.8 401.1h1.2v1.2h-1.2zM183.9 405.5h1.2v1.2h-1.2zM201.9 435.4h1.2v1.2h-1.2zM185.3 443.7h1.2v1.2h-1.2zM184.1 445.4h1.2v1.2h-1.2zM194.9 435.7h1.2v1.2h-1.2zM203.7 421.8h1.2v1.2h-1.2zM185.9 452.7h1.2v1.2h-1.2zM192.9 457.0h1.2v1.2h-1.2zM194.9 452.6h1.2v1.2h-1.2zM181.0 429.8h1.2v1.2h-1.2zM190.2 455.0h1.2v1.2h-1.2zM205.0 422.6h1.2v1.2h-1.2zM186.5 399.1h1.2v1.2h-1.2zM188.7 417.0h1.2v1.2h-1.2zM193.3 432.8h1.2v1.2h-1.2zM204.2 412.3h1.2v1.2h-1.2zM203.7 437.9h1.2v1.2h-1.2zM184.5 410.3h1.2v1.2h-1.2zM205.6 412.6h1.2v1.2h-1.2zM202.0 437.3h1.2v1.2h-1.2zM180.8 418.9h1.2v1.2h-1.2zM189.5 460.9h1.2v1.2h-1.2zM198.5 435.9h1.2v1.2h-1.2zM189.8 457.5h1.2v1.2h-1.2zM189.2 398.1h1.2v1.2h-1.2zM197.7 403.2h1.2v1.2h-1.2zM188.1 437.1h1.2v1.2h-1.2zM192.3 426.0h1.2v1.2h-1.2zM206.2 414.3h1.2v1.2h-1.2zM183.4 444.3h1.2v1.2h-1.2zM202.4 409.7h1.2v1.2h-1.2zM182.6 419.4h1.2v1.2h-1.2zM197.1 453.7h1.2v1.2h-1.2zM191.2 409.2h1.2v1.2h-1.2zM206.0 408.3h1.2v1.2h-1.2zM185.0 424.6h1.2v1.2h-1.2zM184.6 439.9h1.2v1.2h-1.2zM180.5 418.9h1.2v1.2h-1.2zM202.2 444.2h1.2v1.2h-1.2zM180.7 442.9h1.2v1.2h-1.2zM186.0 436.4h1.2v1.2h-1.2zM180.0 423.7h1.2v1.2h-1.2zM198.3 405.7h1.2v1.2h-1.2zM187.1 442.2h1.2v1.2h-1.2zM194.7 420.8h1.2v1.2h-1.2zM183.9 410.3h1.2v1.2h-1.2zM204.2 399.0h1.2v1.2h-1.2zM183.6 399.6h1.2v1.2h-1.2zM185.2 459.5h1.2v1.2h-1.2zM202.1 432.1h1.2v1.2h-1.2zM191.1 401.4h1.2v1.2h-1.2zM186.7 438.3h1.2v1.2h-1.2zM203.2 436.0h1.2v1.2h-1.2zM187.2 433.9h1.2v1.2h-1.2zM179.2 404.7h1.2v1.2h-1.2zM181.0 411.0h1.2v1.2h-1.2zM194.6 397.5h1.2v1.2h-1.2zM200.3 457.8h1.2v1.2h-1.2zM187.5 454.6h1.2v1.2h-1.2zM202.8 442.8h1.2v1.2h-1.2zM181.1 408.0h1.2v1.2h-1.2zM202.0 435.2h1.2v1.2h-1.2zM200.9 396.3h1.2v1.2h-1.2zM199.8 455.4h1.2v1.2h-1.2zM182.5 403.2h1.2v1.2h-1.2zM186.0 459.5h1.2v1.2h-1.2zM202.5 428.4h1.2v1.2h-1.2zM185.7 450.0h1.2v1.2h-1.2zM182.9 403.3h1.2v1.2h-1.2zM202.1 412.0h1.2v1.2h-1.2zM203.7 402.8h1.2v1.2h-1.2zM193.5 455.7h1.2v1.2h-1.2zM191.8 424.3h1.2v1.2h-1.2zM188.7 457.0h1.2v1.2h-1.2zM201.2 428.7h1.2v1.2h-1.2zM196.5 431.4h1.2v1.2h-1.2zM204.9 422.0h1.2v1.2h-1.2zM185.1 459.5h1.2v1.2h-1.2zM178.2 418.1h1.2v1.2h-1.2zM187.7 458.4h1.2v1.2h-1.2zM205.0 401.5h1.2v1.2h-1.2zM187.7 459.1h1.2v1.2h-1.2zM196.2 451.4h1.2v1.2h-1.2zM190.1 395.5h1.2v1.2h-1.2zM199.1 397.2h1.2v1.2h-1.2zM205.8 400.3h1.2v1.2h-1.2zM201.9 412.0h1.2v1.2h-1.2zM180.7 446.5h1.2v1.2h-1.2zM192.7 453.8h1.2v1.2h-1.2zM183.2 433.8h1.2v1.2h-1.2zM180.9 438.0h1.2v1.2h-1.2zM180.3 438.2h1.2v1.2h-1.2zM202.3 416.3h1.2v1.2h-1.2zM189.9 416.9h1.2v1.2h-1.2zM181.9 446.6h1.2v1.2h-1.2zM205.1 410.9h1.2v1.2h-1.2zM180.6 419.1h1.2v1.2h-1.2zM184.4 416.8h1.2v1.2h-1.2zM181.4 415.5h1.2v1.2h-1.2zM205.8 412.3h1.2v1.2h-1.2zM198.0 396.0h1.2v1.2h-1.2zM183.2 449.3h1.2v1.2h-1.2zM181.2 448.7h1.2v1.2h-1.2zM196.3 429.5h1.2v1.2h-1.2zM185.6 400.4h1.2v1.2h-1.2zM187.6 445.3h1.2v1.2h-1.2zM193.8 452.8h1.2v1.2h-1.2zM202.5 437.4h1.2v1.2h-1.2zM185.8 415.4h1.2v1.2h-1.2zM201.9 405.3h1.2v1.2h-1.2zM203.7 428.5h1.2v1.2h-1.2zM193.6 456.6h1.2v1.2h-1.2zM199.6 445.2h1.2v1.2h-1.2zM193.3 408.3h1.2v1.2h-1.2zM184.6 440.2h1.2v1.2h-1.2zM189.8 424.2h1.2v1.2h-1.2zM194.9 461.0h1.2v1.2h-1.2zM178.6 417.8h1.2v1.2h-1.2zM191.7 454.5h1.2v1.2h-1.2zM183.4 413.6h1.2v1.2h-1.2zM181.3 445.3h1.2v1.2h-1.2zM185.6 455.4h1.2v1.2h-1.2zM180.5 410.5h1.2v1.2h-1.2zM193.8 452.7h1.2v1.2h-1.2zM198.0 396.3h1.2v1.2h-1.2zM203.2 401.2h1.2v1.2h-1.2zM179.4 426.8h1.2v1.2h-1.2zM189.3 456.7h1.2v1.2h-1.2z" fill="#2e2e2e" fill-opacity="0.85"/>
<path d="M168.4 412.9h1.2v1.2h-1.2zM162.2 415.7h1.2v1.2h-1.2zM162.6 412.6h1.2v1.2h-1.2zM161.7 421.2h1.2v1.2h-1.2zM157.5 412.5h1.2v1.2h-1.2zM167.5 407.1h1.2v1.2h-1.2zM167.4 409.6h1.2v1.2h-1.2zM166.7 415.2h1.2v1.2h-1.2zM179.8 404.8h1.2v1.2h-1.2zM165.9 413.5h1.2v1.2h-1.2zM167.6 410.2h1.2v1.2h-1.2zM163.3 413.3h1.2v1.2h-1.2zM164.6 413.2h1.2v1.2h-1.2zM167.7 415.8h1.2v1.2h-1.2zM169.9 410.4h1.2v1.2h-1.2zM185.7 409.5h1.2v1.2h-1.2zM168.8 410.1h1.2v1.2h-1.2zM163.4 415.8h1.2v1.2h-1.2zM167.5 414.8h1.2v1.2h-1.2zM175.5 404.7h1.2v1.2h-1.2zM174.0 409.4h1.2v1.2h-1.2zM148.2 419.6h1.2v1.2h-1.2zM169.6 409.2h1.2v1.2h-1.2zM167.6 412.8h1.2v1.2h-1.2zM166.1 416.4h1.2v1.2h-1.2zM170.6 410.4h1.2v1.2h-1.2zM162.6 418.4h1.2v1.2h-1.2zM176.4 406.0h1.2v1.2h-1.2zM171.1 408.0h1.2v1.2h-1.2zM167.2 414.5h1.2v1.2h-1.2zM166.2 412.6h1.2v1.2h-1.2zM170.9 406.4h1.2v1.2h-1.2zM171.9 403.5h1.2v1.2h-1.2zM166.5 417.0h1.2v1.2h-1.2zM175.8 407.4h1.2v1.2h-1.2zM169.5 411.8h1.2v1.2h-1.2zM166.6 413.0h1.2v1.2h-1.2zM176.5 408.5h1.2v1.2h-1.2zM162.0 412.1h1.2v1.2h-1.2zM160.5 420.5h1.2v1.2h-1.2zM177.3 409.5h1.2v1.2h-1.2zM167.0 418.8h1.2v1.2h-1.2zM158.7 420.9h1.2v1.2h-1.2zM173.6 405.0h1.2v1.2h-1.2zM168.2 407.1h1.2v1.2h-1.2zM165.1 410.4h1.2v1.2h-1.2zM175.5 412.6h1.2v1.2h-1.2zM180.3 399.3h1.2v1.2h-1.2zM172.4 408.1h1.2v1.2h-1.2zM168.7 405.4h1.2v1.2h-1.2zM153.3 415.0h1.2v1.2h-1.2zM175.2 402.6h1.2v1.2h-1.2zM174.5 407.8h1.2v1.2h-1.2zM173.0 407.0h1.2v1.2h-1.2zM176.5 407.0h1.2v1.2h-1.2zM169.2 411.8h1.2v1.2h-1.2zM166.6 408.0h1.2v1.2h-1.2zM169.3 412.4h1.2v1.2h-1.2zM168.7 409.1h1.2v1.2h-1.2zM166.4 408.9h1.2v1.2h-1.2z" fill="#2e2e2e" fill-opacity="0.85"/>
<path d="M157.0 411.0h1.2v1.2h-1.2zM160.0 408.0h1.2v1.2h-1.2zM163.0 409.0h1.2v1.2h-1.2zM165.0 445.0h1.2v1.2h-1.2zM166.0 448.0h1.2v1.2h-1.2zM157.0 452.0h1.2v1.2h-1.2zM168.0 456.0h1.2v1.2h-1.2zM163.0 440.0h1.2v1.2h-1.2zM172.0 430.0h1.2v1.2h-1.2zM175.0 425.0h1.2v1.2h-1.2z" fill="#2e2e2e" fill-opacity="0.85"/>
<rect x="32.4" y="347.3" width="2.4" height="4" fill="#8a8a8a"/>
<rect x="35.6" y="354.7" width="3.6" height="2.2" fill="#8a8a8a"/>
<rect x="32.4" y="324.6" width="2.4" height="4" fill="#8a8a8a"/>
<rect x="59.1" y="354.7" width="3.6" height="2.2" fill="#8a8a8a"/>
<rect x="32.4" y="301.90000000000003" width="2.4" height="4" fill="#8a8a8a"/>
<rect x="82.60000000000001" y="354.7" width="3.6" height="2.2" fill="#8a8a8a"/>
<rect x="32.4" y="279.20000000000005" width="2.4" height="4" fill="#8a8a8a"/>
<rect x="106.10000000000001" y="354.7" width="3.6" height="2.2" fill="#8a8a8a"/>
<rect x="32.4" y="256.5" width="2.4" height="4" fill="#8a8a8a"/>
<rect x="129.6" y="354.7" width="3.6" height="2.2" fill="#8a8a8a"/>
<rect x="138.70000000000002" y="347.3" width="2.4" height="4" fill="#8a8a8a"/>
<rect x="141.9" y="354.7" width="3.6" height="2.2" fill="#8a8a8a"/>
<rect x="138.70000000000002" y="324.6" width="2.4" height="4" fill="#8a8a8a"/>
<rect x="165.4" y="354.7" width="3.6" height="2.2" fill="#8a8a8a"/>
<rect x="138.70000000000002" y="301.90000000000003" width="2.4" height="4" fill="#8a8a8a"/>
<rect x="188.9" y="354.7" width="3.6" height="2.2" fill="#8a8a8a"/>
<rect x="138.70000000000002" y="279.20000000000005" width="2.4" height="4" fill="#8a8a8a"/>
<rect x="212.4" y="354.7" width="3.6" height="2.2" fill="#8a8a8a"/>
<rect x="138.70000000000002" y="256.5" width="2.4" height="4" fill="#8a8a8a"/>
<rect x="235.9" y="354.7" width="3.6" height="2.2" fill="#8a8a8a"/>
<rect x="32.6" y="457.6" width="2.4" height="4" fill="#8a8a8a"/>
<rect x="35.800000000000004" y="465.0" width="3.6" height="2.2" fill="#8a8a8a"/>
<rect x="32.6" y="434.90000000000003" width="2.4" height="4" fill="#8a8a8a"/>
<rect x="59.300000000000004" y="465.0" width="3.6" height="2.2" fill="#8a8a8a"/>
<rect x="32.6" y="412.20000000000005" width="2.4" height="4" fill="#8a8a8a"/>
<rect x="82.8" y="465.0" width="3.6" height="2.2" fill="#8a8a8a"/>
<rect x="32.6" y="389.5" width="2.4" height="4" fill="#8a8a8a"/>
<rect x="106.3" y="465.0" width="3.6" height="2.2" fill="#8a8a8a"/>
<rect x="32.6" y="366.8" width="2.4" height="4" fill="#8a8a8a"/>
<rect x="129.79999999999998" y="465.0" width="3.6" height="2.2" fill="#8a8a8a"/>
<rect x="139.3" y="457.6" width="2.4" height="4" fill="#8a8a8a"/>
<rect x="142.5" y="465.0" width="3.6" height="2.2" fill="#8a8a8a"/>
<rect x="139.3" y="434.90000000000003" width="2.4" height="4" fill="#8a8a8a"/>
<rect x="166.0" y="465.0" width="3.6" height="2.2" fill="#8a8a8a"/>
<rect x="139.3" y="412.20000000000005" width="2.4" height="4" fill="#8a8a8a"/>
<rect x="189.5" y="465.0" width="3.6" height="2.2" fill="#8a8a8a"/>
<rect x="139.3" y="389.5" width="2.4" height="4" fill="#8a8a8a"/>
<rect x="213.0" y="465.0" width="3.6" height="2.2" fill="#8a8a8a"/>
<rect x="139.3" y="366.8" width="2.4" height="4" fill="#8a8a8a"/>
<rect x="236.5" y="465.0" width="3.6" height="2.2" fill="#8a8a8a"/>
<text x="128.1" y="272.7" text-anchor="end" style="font-family:'Liberation Serif',serif;font-weight:bold;font-size:13.9px" fill="#111" stroke="#111" stroke-width="0.6" textLength="22.2" lengthAdjust="spacingAndGlyphs">65.7</text>
<text x="128.1" y="342.59999999999997" text-anchor="end" style="font-family:'Liberation Serif',serif;font-weight:bold;font-size:13.9px" fill="#111" stroke="#111" stroke-width="0.6" textLength="22.2" lengthAdjust="spacingAndGlyphs">18.4</text>
<text x="235.1" y="272.7" text-anchor="end" style="font-family:'Liberation Serif',serif;font-weight:bold;font-size:13.9px" fill="#111" stroke="#111" stroke-width="0.6" textLength="22.2" lengthAdjust="spacingAndGlyphs">59.1</text>
<text x="235.1" y="342.59999999999997" text-anchor="end" style="font-family:'Liberation Serif',serif;font-weight:bold;font-size:13.9px" fill="#111" stroke="#111" stroke-width="0.6" textLength="22.2" lengthAdjust="spacingAndGlyphs">27.5</text>
<text x="128.1" y="382.7" text-anchor="end" style="font-family:'Liberation Serif',serif;font-weight:bold;font-size:13.9px" fill="#111" stroke="#111" stroke-width="0.6" textLength="22.2" lengthAdjust="spacingAndGlyphs">26.1</text>
<text x="128.1" y="451.4" text-anchor="end" style="font-family:'Liberation Serif',serif;font-weight:bold;font-size:13.9px" fill="#111" stroke="#111" stroke-width="0.6" textLength="22.2" lengthAdjust="spacingAndGlyphs">11.3</text>
<text x="235.6" y="382.7" text-anchor="end" style="font-family:'Liberation Serif',serif;font-weight:bold;font-size:13.9px" fill="#111" stroke="#111" stroke-width="0.6" textLength="22.2" lengthAdjust="spacingAndGlyphs">77.3</text>
<text x="235.6" y="451.4" text-anchor="end" style="font-family:'Liberation Serif',serif;font-weight:bold;font-size:13.9px" fill="#111" stroke="#111" stroke-width="0.6" textLength="22.2" lengthAdjust="spacingAndGlyphs">17.8</text>
<text x="253.3" y="306.6" text-anchor="middle" style="font-family:'Liberation Serif',serif;font-weight:bold;font-size:12px" fill="#111" stroke="#111" stroke-width="0.6" transform="rotate(-90 253.3 306.6)" textLength="58.5" lengthAdjust="spacingAndGlyphs">HL&#8211;60/neo</text>
<text x="253.8" y="415.7" text-anchor="middle" style="font-family:'Liberation Serif',serif;font-weight:bold;font-size:12px" fill="#111" stroke="#111" stroke-width="0.6" transform="rotate(-90 253.8 415.7)" textLength="67.5" lengthAdjust="spacingAndGlyphs">HL&#8211;60/Bcl-2</text>
<line x1="24" y1="266" x2="24" y2="463" stroke="#333" stroke-width="1.3"/>
<path d="M20.2,269.5 L27.8,269.5 L24,258 Z" fill="#111"/>
<text x="18.8" y="360.5" text-anchor="middle" style="font-family:'Liberation Serif',serif;font-weight:bold;font-size:14px" fill="#111" stroke="#111" stroke-width="0.6" transform="rotate(-90 18.8 360.5)" textLength="12.6" lengthAdjust="spacingAndGlyphs">PI</text>
<line x1="39" y1="475.1" x2="228" y2="475.1" stroke="#333" stroke-width="1.3"/>
<path d="M226,471.3 L226,478.7 L237.8,475 Z" fill="#111"/>
<text x="138.5" y="489.5" text-anchor="middle" style="font-family:'Liberation Serif',serif;font-weight:bold;font-size:13px" fill="#111" stroke="#111" stroke-width="0.6" textLength="59.5" lengthAdjust="spacingAndGlyphs">Annexin V</text>
<text x="279.3" y="253.8" text-anchor="start" style="font-family:'Liberation Sans',sans-serif;font-weight:bold;font-size:17px" fill="#111" stroke="#111" stroke-width="0.6">D</text>
<line x1="332.3" y1="262.6" x2="332.3" y2="439.7" stroke="#555" stroke-width="1.1"/>
<line x1="332.3" y1="439.7" x2="510.9" y2="439.7" stroke="#555" stroke-width="1.1"/>
<line x1="328.5" y1="439.9" x2="332.5" y2="439.9" stroke="#555" stroke-width="1.0"/>
<text x="321.8" y="444.5" text-anchor="end" style="font-family:'Liberation Serif',serif;font-weight:bold;font-size:14px" fill="#111" stroke="#111" stroke-width="0.6" textLength="6" lengthAdjust="spacingAndGlyphs">0</text>
<line x1="328.5" y1="410.38399999999996" x2="332.5" y2="410.38399999999996" stroke="#555" stroke-width="1.0"/>
<text x="321.8" y="414.984" text-anchor="end" style="font-family:'Liberation Serif',serif;font-weight:bold;font-size:14px" fill="#111" stroke="#111" stroke-width="0.6" textLength="12.1" lengthAdjust="spacingAndGlyphs">20</text>
<line x1="328.5" y1="380.868" x2="332.5" y2="380.868" stroke="#555" stroke-width="1.0"/>
<text x="321.8" y="385.468" text-anchor="end" style="font-family:'Liberation Serif',serif;font-weight:bold;font-size:14px" fill="#111" stroke="#111" stroke-width="0.6" textLength="12.1" lengthAdjust="spacingAndGlyphs">40</text>
<line x1="328.5" y1="351.352" x2="332.5" y2="351.352" stroke="#555" stroke-width="1.0"/>
<text x="321.8" y="355.952" text-anchor="end" style="font-family:'Liberation Serif',serif;font-weight:bold;font-size:14px" fill="#111" stroke="#111" stroke-width="0.6" textLength="12.1" lengthAdjust="spacingAndGlyphs">60</text>
<line x1="328.5" y1="321.836" x2="332.5" y2="321.836" stroke="#555" stroke-width="1.0"/>
<text x="321.8" y="326.43600000000004" text-anchor="end" style="font-family:'Liberation Serif',serif;font-weight:bold;font-size:14px" fill="#111" stroke="#111" stroke-width="0.6" textLength="12.1" lengthAdjust="spacingAndGlyphs">80</text>
<line x1="328.5" y1="292.31999999999994" x2="332.5" y2="292.31999999999994" stroke="#555" stroke-width="1.0"/>
<text x="321.8" y="296.91999999999996" text-anchor="end" style="font-family:'Liberation Serif',serif;font-weight:bold;font-size:14px" fill="#111" stroke="#111" stroke-width="0.6" textLength="18.2" lengthAdjust="spacingAndGlyphs">100</text>
<line x1="328.5" y1="262.804" x2="332.5" y2="262.804" stroke="#555" stroke-width="1.0"/>
<text x="321.8" y="267.404" text-anchor="end" style="font-family:'Liberation Serif',serif;font-weight:bold;font-size:14px" fill="#111" stroke="#111" stroke-width="0.6" textLength="18.2" lengthAdjust="spacingAndGlyphs">120</text>
<line x1="332.5" y1="439.7" x2="332.5" y2="443.8" stroke="#555" stroke-width="1.0"/>
<text x="332.3" y="464.8" text-anchor="middle" style="font-family:'Liberation Serif',serif;font-weight:bold;font-size:13.8px" fill="#111" stroke="#111" stroke-width="0.6" textLength="5.8" lengthAdjust="spacingAndGlyphs">0</text>
<line x1="377.2" y1="439.7" x2="377.2" y2="443.8" stroke="#555" stroke-width="1.0"/>
<text x="376.8" y="464.8" text-anchor="middle" style="font-family:'Liberation Serif',serif;font-weight:bold;font-size:13.8px" fill="#111" stroke="#111" stroke-width="0.6" textLength="5.8" lengthAdjust="spacingAndGlyphs">6</text>
<line x1="421" y1="439.7" x2="421" y2="443.8" stroke="#555" stroke-width="1.0"/>
<text x="421" y="464.8" text-anchor="middle" style="font-family:'Liberation Serif',serif;font-weight:bold;font-size:13.8px" fill="#111" stroke="#111" stroke-width="0.6" textLength="5.8" lengthAdjust="spacingAndGlyphs">8</text>
<line x1="466" y1="439.7" x2="466" y2="443.8" stroke="#555" stroke-width="1.0"/>
<text x="466.3" y="464.8" text-anchor="middle" style="font-family:'Liberation Serif',serif;font-weight:bold;font-size:13.8px" fill="#111" stroke="#111" stroke-width="0.6" textLength="11.8" lengthAdjust="spacingAndGlyphs">10</text>
<line x1="510.9" y1="439.7" x2="510.9" y2="443.8" stroke="#555" stroke-width="1.0"/>
<text x="510.9" y="464.8" text-anchor="middle" style="font-family:'Liberation Serif',serif;font-weight:bold;font-size:13.8px" fill="#111" stroke="#111" stroke-width="0.6" textLength="11.8" lengthAdjust="spacingAndGlyphs">12</text>
<text x="383.0" y="489.5" text-anchor="start" style="font-family:'Liberation Serif',serif;font-weight:bold;font-size:12.5px" fill="#111" stroke="#111" stroke-width="0.6" textLength="50.6" lengthAdjust="spacingAndGlyphs">HA14-1 (</text>
<text x="433.6" y="489.5" style="font-family:'Liberation Serif',serif;font-size:13px" fill="#222" stroke="#222" stroke-width="0.25" textLength="8.6" lengthAdjust="spacingAndGlyphs">&#956;</text>
<text x="444.4" y="489.5" text-anchor="start" style="font-family:'Liberation Serif',serif;font-weight:bold;font-size:12.5px" fill="#111" stroke="#111" stroke-width="0.6" textLength="16.0" lengthAdjust="spacingAndGlyphs">M)</text>
<text x="291.3" y="350.5" text-anchor="middle" style="font-family:'Liberation Serif',serif;font-weight:bold;font-size:12.5px" fill="#111" stroke="#111" stroke-width="0.6" transform="rotate(-90 291.3 350.5)" textLength="141" lengthAdjust="spacingAndGlyphs">CFU-Blast (% of control)</text>
<line x1="332.4" y1="280.1" x2="332.4" y2="327.9" stroke="#222" stroke-width="1.1"/>
<line x1="329.29999999999995" y1="280.1" x2="335.5" y2="280.1" stroke="#222" stroke-width="1.1"/>
<line x1="329.29999999999995" y1="327.9" x2="335.5" y2="327.9" stroke="#222" stroke-width="1.1"/>
<line x1="329.5" y1="321.1" x2="332.4" y2="321.1" stroke="#222" stroke-width="1.1"/>
<line x1="377.3" y1="289.5" x2="377.3" y2="305" stroke="#222" stroke-width="1.1"/>
<line x1="374.15000000000003" y1="289.5" x2="380.45" y2="289.5" stroke="#222" stroke-width="1.1"/>
<line x1="374.15000000000003" y1="305" x2="380.45" y2="305" stroke="#222" stroke-width="1.1"/>
<line x1="420.8" y1="293.6" x2="420.8" y2="314.7" stroke="#222" stroke-width="1.1"/>
<line x1="417.55" y1="293.6" x2="424.05" y2="293.6" stroke="#222" stroke-width="1.1"/>
<line x1="417.55" y1="314.7" x2="424.05" y2="314.7" stroke="#222" stroke-width="1.1"/>
<line x1="466.1" y1="300.8" x2="466.1" y2="340.3" stroke="#222" stroke-width="1.1"/>
<line x1="462.95000000000005" y1="300.8" x2="469.25" y2="300.8" stroke="#222" stroke-width="1.1"/>
<line x1="462.95000000000005" y1="340.3" x2="469.25" y2="340.3" stroke="#222" stroke-width="1.1"/>
<line x1="510.6" y1="314" x2="510.6" y2="384.4" stroke="#222" stroke-width="1.1"/>
<line x1="507.45000000000005" y1="314" x2="513.75" y2="314" stroke="#222" stroke-width="1.1"/>
<line x1="507.45000000000005" y1="384.4" x2="513.75" y2="384.4" stroke="#222" stroke-width="1.1"/>
<line x1="377.3" y1="325.8" x2="377.3" y2="383.9" stroke="#222" stroke-width="1.1"/>
<line x1="374.15000000000003" y1="325.8" x2="380.45" y2="325.8" stroke="#222" stroke-width="1.1"/>
<line x1="374.15000000000003" y1="383.9" x2="380.45" y2="383.9" stroke="#222" stroke-width="1.1"/>
<line x1="420.8" y1="347.3" x2="420.8" y2="395.6" stroke="#222" stroke-width="1.1"/>
<line x1="417.65000000000003" y1="347.3" x2="423.95" y2="347.3" stroke="#222" stroke-width="1.1"/>
<line x1="417.65000000000003" y1="395.6" x2="423.95" y2="395.6" stroke="#222" stroke-width="1.1"/>
<line x1="466.1" y1="377.7" x2="466.1" y2="418.7" stroke="#222" stroke-width="1.1"/>
<line x1="462.95000000000005" y1="377.7" x2="469.25" y2="377.7" stroke="#222" stroke-width="1.1"/>
<line x1="462.95000000000005" y1="418.7" x2="469.25" y2="418.7" stroke="#222" stroke-width="1.1"/>
<line x1="510.6" y1="387.6" x2="510.6" y2="432.5" stroke="#222" stroke-width="1.1"/>
<line x1="507.45000000000005" y1="387.6" x2="513.75" y2="387.6" stroke="#222" stroke-width="1.1"/>
<line x1="507.45000000000005" y1="432.5" x2="513.75" y2="432.5" stroke="#222" stroke-width="1.1"/>
<polyline points="332.6,295.9 377.3,296 420.8,304.3 466.1,321.3 510.6,348.3" fill="none" stroke="#111" stroke-width="1.4"/>
<polyline points="332.6,303 377.2,353.9 420.8,370.8 466.1,398 510.6,409.6" fill="none" stroke="#111" stroke-width="1.6"/>
<ellipse cx="332.6" cy="295.9" rx="3.7" ry="2.4" fill="#fff" stroke="#111" stroke-width="1.3"/>
<ellipse cx="377.3" cy="296" rx="3.9" ry="2.4" fill="#fff" stroke="#111" stroke-width="1.3"/>
<ellipse cx="420.8" cy="304.3" rx="2.8" ry="3.3" fill="#fff" stroke="#111" stroke-width="1.3"/>
<ellipse cx="466.1" cy="321.3" rx="3.8" ry="3.7" fill="#fff" stroke="#111" stroke-width="1.3"/>
<ellipse cx="510.6" cy="348.3" rx="3.8" ry="3.0" fill="#fff" stroke="#111" stroke-width="1.3"/>
<ellipse cx="332.6" cy="303" rx="3.7" ry="3.2" fill="#111"/>
<ellipse cx="377.2" cy="353.9" rx="4.25" ry="3.9" fill="#111"/>
<ellipse cx="420.8" cy="370.8" rx="3.3" ry="3.3" fill="#111"/>
<ellipse cx="466.1" cy="398" rx="4.6" ry="4.5" fill="#111"/>
<ellipse cx="510.6" cy="409.6" rx="4.2" ry="4.1" fill="#111"/>
<polygon points="377.10,386.70 377.89,388.71 380.05,388.84 378.38,390.22 378.92,392.31 377.10,391.15 375.28,392.31 375.82,390.22 374.15,388.84 376.31,388.71" fill="#1a1a1a"/>
<polygon points="418.40,397.90 419.19,399.91 421.35,400.04 419.68,401.42 420.22,403.51 418.40,402.35 416.58,403.51 417.12,401.42 415.45,400.04 417.61,399.91" fill="#1a1a1a"/>
<polygon points="424.40,397.90 425.19,399.91 427.35,400.04 425.68,401.42 426.22,403.51 424.40,402.35 422.58,403.51 423.12,401.42 421.45,400.04 423.61,399.91" fill="#1a1a1a"/>
<polygon points="463.20,420.70 463.99,422.71 466.15,422.84 464.48,424.22 465.02,426.31 463.20,425.15 461.38,426.31 461.92,424.22 460.25,422.84 462.41,422.71" fill="#1a1a1a"/>
<polygon points="469.30,420.70 470.09,422.71 472.25,422.84 470.58,424.22 471.12,426.31 469.30,425.15 467.48,426.31 468.02,424.22 466.35,422.84 468.51,422.71" fill="#1a1a1a"/>
<polygon points="507.30,434.10 508.09,436.11 510.25,436.24 508.58,437.62 509.12,439.71 507.30,438.55 505.48,439.71 506.02,437.62 504.35,436.24 506.51,436.11" fill="#1a1a1a"/>
<polygon points="513.50,434.10 514.29,436.11 516.45,436.24 514.78,437.62 515.32,439.71 513.50,438.55 511.68,439.71 512.22,437.62 510.55,436.24 512.71,436.11" fill="#1a1a1a"/>
</svg>
</body></html>
